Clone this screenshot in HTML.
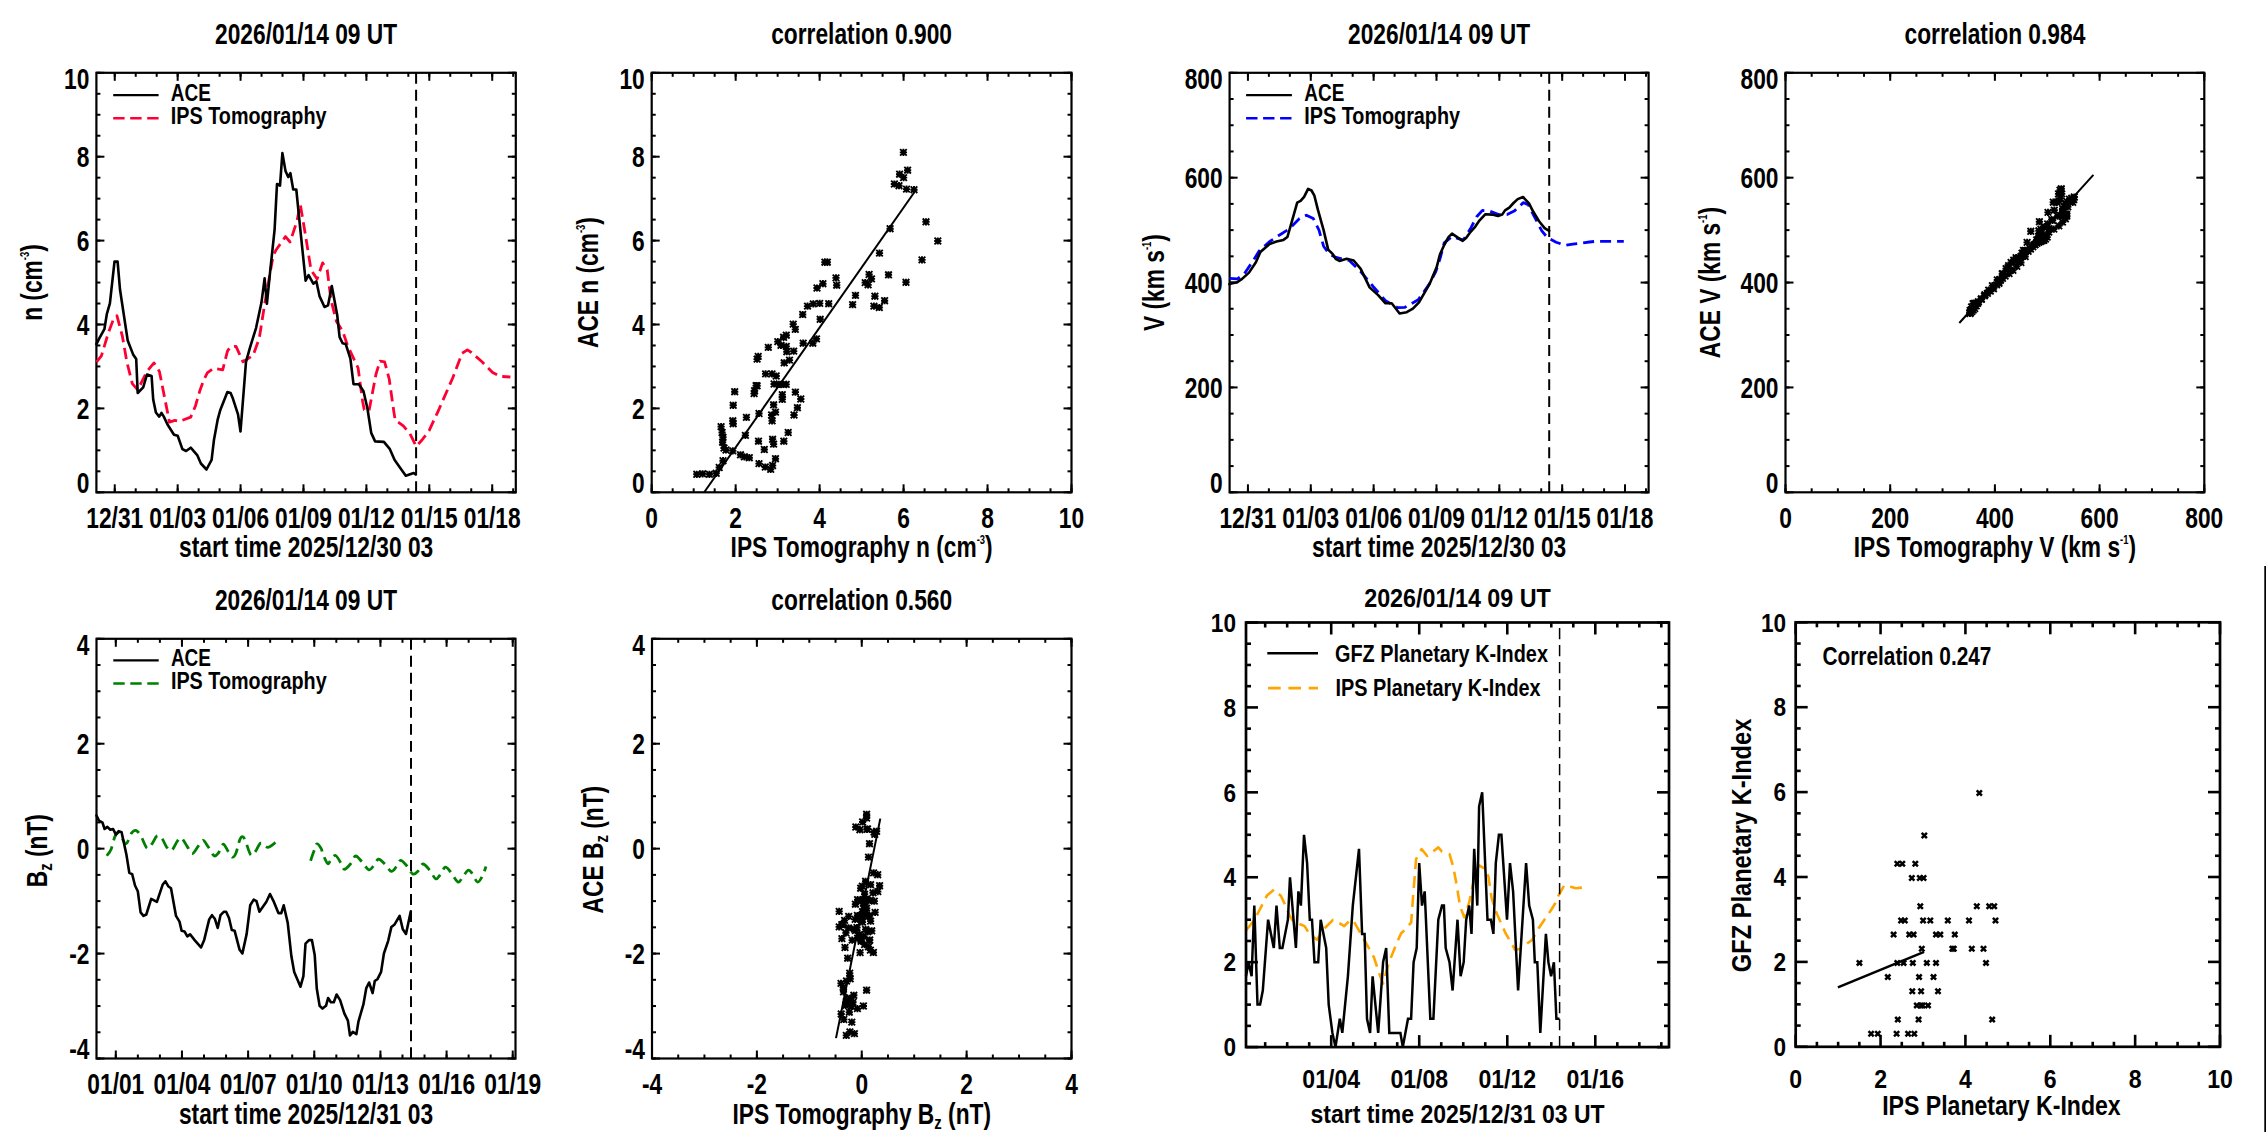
<!DOCTYPE html>
<html><head><meta charset="utf-8"><style>
html,body{margin:0;padding:0;background:#fff;overflow:hidden;}
svg{display:block;}
text{font-family:"Liberation Sans", sans-serif;}
</style></head><body>
<svg width="2266" height="1132" viewBox="0 0 2266 1132">
<defs><path id="ast" d="M-3.3,-3.3L3.3,3.3M-3.3,3.3L3.3,-3.3M-3.6,0L3.6,0M0,-3.6L0,3.6" stroke="#000" stroke-width="1.9" fill="none"/><path id="xm" d="M-2.6,-2.6L2.6,2.6M-2.6,2.6L2.6,-2.6" stroke="#000" stroke-width="2.5" fill="none"/></defs>
<rect width="2266" height="1132" fill="#fff"/>
<rect x="96.40" y="72.80" width="419.40" height="419.50" fill="none" stroke="#000" stroke-width="2.2"/>
<line x1="114.75" y1="492.30" x2="114.75" y2="484.30" stroke="#000" stroke-width="2.0" />
<line x1="114.75" y1="72.80" x2="114.75" y2="80.80" stroke="#000" stroke-width="2.0" />
<line x1="177.66" y1="492.30" x2="177.66" y2="484.30" stroke="#000" stroke-width="2.0" />
<line x1="177.66" y1="72.80" x2="177.66" y2="80.80" stroke="#000" stroke-width="2.0" />
<line x1="240.57" y1="492.30" x2="240.57" y2="484.30" stroke="#000" stroke-width="2.0" />
<line x1="240.57" y1="72.80" x2="240.57" y2="80.80" stroke="#000" stroke-width="2.0" />
<line x1="303.48" y1="492.30" x2="303.48" y2="484.30" stroke="#000" stroke-width="2.0" />
<line x1="303.48" y1="72.80" x2="303.48" y2="80.80" stroke="#000" stroke-width="2.0" />
<line x1="366.39" y1="492.30" x2="366.39" y2="484.30" stroke="#000" stroke-width="2.0" />
<line x1="366.39" y1="72.80" x2="366.39" y2="80.80" stroke="#000" stroke-width="2.0" />
<line x1="429.30" y1="492.30" x2="429.30" y2="484.30" stroke="#000" stroke-width="2.0" />
<line x1="429.30" y1="72.80" x2="429.30" y2="80.80" stroke="#000" stroke-width="2.0" />
<line x1="492.21" y1="492.30" x2="492.21" y2="484.30" stroke="#000" stroke-width="2.0" />
<line x1="492.21" y1="72.80" x2="492.21" y2="80.80" stroke="#000" stroke-width="2.0" />
<line x1="114.75" y1="492.30" x2="114.75" y2="488.30" stroke="#000" stroke-width="2.0" />
<line x1="114.75" y1="72.80" x2="114.75" y2="76.80" stroke="#000" stroke-width="2.0" />
<line x1="135.72" y1="492.30" x2="135.72" y2="488.30" stroke="#000" stroke-width="2.0" />
<line x1="135.72" y1="72.80" x2="135.72" y2="76.80" stroke="#000" stroke-width="2.0" />
<line x1="156.69" y1="492.30" x2="156.69" y2="488.30" stroke="#000" stroke-width="2.0" />
<line x1="156.69" y1="72.80" x2="156.69" y2="76.80" stroke="#000" stroke-width="2.0" />
<line x1="177.66" y1="492.30" x2="177.66" y2="488.30" stroke="#000" stroke-width="2.0" />
<line x1="177.66" y1="72.80" x2="177.66" y2="76.80" stroke="#000" stroke-width="2.0" />
<line x1="198.63" y1="492.30" x2="198.63" y2="488.30" stroke="#000" stroke-width="2.0" />
<line x1="198.63" y1="72.80" x2="198.63" y2="76.80" stroke="#000" stroke-width="2.0" />
<line x1="219.60" y1="492.30" x2="219.60" y2="488.30" stroke="#000" stroke-width="2.0" />
<line x1="219.60" y1="72.80" x2="219.60" y2="76.80" stroke="#000" stroke-width="2.0" />
<line x1="240.57" y1="492.30" x2="240.57" y2="488.30" stroke="#000" stroke-width="2.0" />
<line x1="240.57" y1="72.80" x2="240.57" y2="76.80" stroke="#000" stroke-width="2.0" />
<line x1="261.54" y1="492.30" x2="261.54" y2="488.30" stroke="#000" stroke-width="2.0" />
<line x1="261.54" y1="72.80" x2="261.54" y2="76.80" stroke="#000" stroke-width="2.0" />
<line x1="282.51" y1="492.30" x2="282.51" y2="488.30" stroke="#000" stroke-width="2.0" />
<line x1="282.51" y1="72.80" x2="282.51" y2="76.80" stroke="#000" stroke-width="2.0" />
<line x1="303.48" y1="492.30" x2="303.48" y2="488.30" stroke="#000" stroke-width="2.0" />
<line x1="303.48" y1="72.80" x2="303.48" y2="76.80" stroke="#000" stroke-width="2.0" />
<line x1="324.45" y1="492.30" x2="324.45" y2="488.30" stroke="#000" stroke-width="2.0" />
<line x1="324.45" y1="72.80" x2="324.45" y2="76.80" stroke="#000" stroke-width="2.0" />
<line x1="345.42" y1="492.30" x2="345.42" y2="488.30" stroke="#000" stroke-width="2.0" />
<line x1="345.42" y1="72.80" x2="345.42" y2="76.80" stroke="#000" stroke-width="2.0" />
<line x1="366.39" y1="492.30" x2="366.39" y2="488.30" stroke="#000" stroke-width="2.0" />
<line x1="366.39" y1="72.80" x2="366.39" y2="76.80" stroke="#000" stroke-width="2.0" />
<line x1="387.36" y1="492.30" x2="387.36" y2="488.30" stroke="#000" stroke-width="2.0" />
<line x1="387.36" y1="72.80" x2="387.36" y2="76.80" stroke="#000" stroke-width="2.0" />
<line x1="408.33" y1="492.30" x2="408.33" y2="488.30" stroke="#000" stroke-width="2.0" />
<line x1="408.33" y1="72.80" x2="408.33" y2="76.80" stroke="#000" stroke-width="2.0" />
<line x1="429.30" y1="492.30" x2="429.30" y2="488.30" stroke="#000" stroke-width="2.0" />
<line x1="429.30" y1="72.80" x2="429.30" y2="76.80" stroke="#000" stroke-width="2.0" />
<line x1="450.27" y1="492.30" x2="450.27" y2="488.30" stroke="#000" stroke-width="2.0" />
<line x1="450.27" y1="72.80" x2="450.27" y2="76.80" stroke="#000" stroke-width="2.0" />
<line x1="471.24" y1="492.30" x2="471.24" y2="488.30" stroke="#000" stroke-width="2.0" />
<line x1="471.24" y1="72.80" x2="471.24" y2="76.80" stroke="#000" stroke-width="2.0" />
<line x1="492.21" y1="492.30" x2="492.21" y2="488.30" stroke="#000" stroke-width="2.0" />
<line x1="492.21" y1="72.80" x2="492.21" y2="76.80" stroke="#000" stroke-width="2.0" />
<line x1="513.18" y1="492.30" x2="513.18" y2="488.30" stroke="#000" stroke-width="2.0" />
<line x1="513.18" y1="72.80" x2="513.18" y2="76.80" stroke="#000" stroke-width="2.0" />
<line x1="96.40" y1="492.30" x2="104.40" y2="492.30" stroke="#000" stroke-width="2.0" />
<line x1="515.80" y1="492.30" x2="507.80" y2="492.30" stroke="#000" stroke-width="2.0" />
<line x1="96.40" y1="408.40" x2="104.40" y2="408.40" stroke="#000" stroke-width="2.0" />
<line x1="515.80" y1="408.40" x2="507.80" y2="408.40" stroke="#000" stroke-width="2.0" />
<line x1="96.40" y1="324.50" x2="104.40" y2="324.50" stroke="#000" stroke-width="2.0" />
<line x1="515.80" y1="324.50" x2="507.80" y2="324.50" stroke="#000" stroke-width="2.0" />
<line x1="96.40" y1="240.60" x2="104.40" y2="240.60" stroke="#000" stroke-width="2.0" />
<line x1="515.80" y1="240.60" x2="507.80" y2="240.60" stroke="#000" stroke-width="2.0" />
<line x1="96.40" y1="156.70" x2="104.40" y2="156.70" stroke="#000" stroke-width="2.0" />
<line x1="515.80" y1="156.70" x2="507.80" y2="156.70" stroke="#000" stroke-width="2.0" />
<line x1="96.40" y1="72.80" x2="104.40" y2="72.80" stroke="#000" stroke-width="2.0" />
<line x1="515.80" y1="72.80" x2="507.80" y2="72.80" stroke="#000" stroke-width="2.0" />
<line x1="96.40" y1="492.30" x2="100.40" y2="492.30" stroke="#000" stroke-width="2.0" />
<line x1="515.80" y1="492.30" x2="511.80" y2="492.30" stroke="#000" stroke-width="2.0" />
<line x1="96.40" y1="471.32" x2="100.40" y2="471.32" stroke="#000" stroke-width="2.0" />
<line x1="515.80" y1="471.32" x2="511.80" y2="471.32" stroke="#000" stroke-width="2.0" />
<line x1="96.40" y1="450.35" x2="100.40" y2="450.35" stroke="#000" stroke-width="2.0" />
<line x1="515.80" y1="450.35" x2="511.80" y2="450.35" stroke="#000" stroke-width="2.0" />
<line x1="96.40" y1="429.38" x2="100.40" y2="429.38" stroke="#000" stroke-width="2.0" />
<line x1="515.80" y1="429.38" x2="511.80" y2="429.38" stroke="#000" stroke-width="2.0" />
<line x1="96.40" y1="408.40" x2="100.40" y2="408.40" stroke="#000" stroke-width="2.0" />
<line x1="515.80" y1="408.40" x2="511.80" y2="408.40" stroke="#000" stroke-width="2.0" />
<line x1="96.40" y1="387.43" x2="100.40" y2="387.43" stroke="#000" stroke-width="2.0" />
<line x1="515.80" y1="387.43" x2="511.80" y2="387.43" stroke="#000" stroke-width="2.0" />
<line x1="96.40" y1="366.45" x2="100.40" y2="366.45" stroke="#000" stroke-width="2.0" />
<line x1="515.80" y1="366.45" x2="511.80" y2="366.45" stroke="#000" stroke-width="2.0" />
<line x1="96.40" y1="345.48" x2="100.40" y2="345.48" stroke="#000" stroke-width="2.0" />
<line x1="515.80" y1="345.48" x2="511.80" y2="345.48" stroke="#000" stroke-width="2.0" />
<line x1="96.40" y1="324.50" x2="100.40" y2="324.50" stroke="#000" stroke-width="2.0" />
<line x1="515.80" y1="324.50" x2="511.80" y2="324.50" stroke="#000" stroke-width="2.0" />
<line x1="96.40" y1="303.52" x2="100.40" y2="303.52" stroke="#000" stroke-width="2.0" />
<line x1="515.80" y1="303.52" x2="511.80" y2="303.52" stroke="#000" stroke-width="2.0" />
<line x1="96.40" y1="282.55" x2="100.40" y2="282.55" stroke="#000" stroke-width="2.0" />
<line x1="515.80" y1="282.55" x2="511.80" y2="282.55" stroke="#000" stroke-width="2.0" />
<line x1="96.40" y1="261.58" x2="100.40" y2="261.58" stroke="#000" stroke-width="2.0" />
<line x1="515.80" y1="261.58" x2="511.80" y2="261.58" stroke="#000" stroke-width="2.0" />
<line x1="96.40" y1="240.60" x2="100.40" y2="240.60" stroke="#000" stroke-width="2.0" />
<line x1="515.80" y1="240.60" x2="511.80" y2="240.60" stroke="#000" stroke-width="2.0" />
<line x1="96.40" y1="219.62" x2="100.40" y2="219.62" stroke="#000" stroke-width="2.0" />
<line x1="515.80" y1="219.62" x2="511.80" y2="219.62" stroke="#000" stroke-width="2.0" />
<line x1="96.40" y1="198.65" x2="100.40" y2="198.65" stroke="#000" stroke-width="2.0" />
<line x1="515.80" y1="198.65" x2="511.80" y2="198.65" stroke="#000" stroke-width="2.0" />
<line x1="96.40" y1="177.68" x2="100.40" y2="177.68" stroke="#000" stroke-width="2.0" />
<line x1="515.80" y1="177.68" x2="511.80" y2="177.68" stroke="#000" stroke-width="2.0" />
<line x1="96.40" y1="156.70" x2="100.40" y2="156.70" stroke="#000" stroke-width="2.0" />
<line x1="515.80" y1="156.70" x2="511.80" y2="156.70" stroke="#000" stroke-width="2.0" />
<line x1="96.40" y1="135.73" x2="100.40" y2="135.73" stroke="#000" stroke-width="2.0" />
<line x1="515.80" y1="135.73" x2="511.80" y2="135.73" stroke="#000" stroke-width="2.0" />
<line x1="96.40" y1="114.75" x2="100.40" y2="114.75" stroke="#000" stroke-width="2.0" />
<line x1="515.80" y1="114.75" x2="511.80" y2="114.75" stroke="#000" stroke-width="2.0" />
<line x1="96.40" y1="93.78" x2="100.40" y2="93.78" stroke="#000" stroke-width="2.0" />
<line x1="515.80" y1="93.78" x2="511.80" y2="93.78" stroke="#000" stroke-width="2.0" />
<line x1="96.40" y1="72.80" x2="100.40" y2="72.80" stroke="#000" stroke-width="2.0" />
<line x1="515.80" y1="72.80" x2="511.80" y2="72.80" stroke="#000" stroke-width="2.0" />
<text transform="translate(114.75,528.00) scale(0.785,1)" text-anchor="middle" font-size="29" font-weight="bold" fill="#000">12/31</text>
<text transform="translate(177.66,528.00) scale(0.785,1)" text-anchor="middle" font-size="29" font-weight="bold" fill="#000">01/03</text>
<text transform="translate(240.57,528.00) scale(0.785,1)" text-anchor="middle" font-size="29" font-weight="bold" fill="#000">01/06</text>
<text transform="translate(303.48,528.00) scale(0.785,1)" text-anchor="middle" font-size="29" font-weight="bold" fill="#000">01/09</text>
<text transform="translate(366.39,528.00) scale(0.785,1)" text-anchor="middle" font-size="29" font-weight="bold" fill="#000">01/12</text>
<text transform="translate(429.30,528.00) scale(0.785,1)" text-anchor="middle" font-size="29" font-weight="bold" fill="#000">01/15</text>
<text transform="translate(492.21,528.00) scale(0.785,1)" text-anchor="middle" font-size="29" font-weight="bold" fill="#000">01/18</text>
<text transform="translate(89.40,492.60) scale(0.785,1)" text-anchor="end" font-size="29" font-weight="bold" fill="#000">0</text>
<text transform="translate(89.40,418.50) scale(0.785,1)" text-anchor="end" font-size="29" font-weight="bold" fill="#000">2</text>
<text transform="translate(89.40,334.60) scale(0.785,1)" text-anchor="end" font-size="29" font-weight="bold" fill="#000">4</text>
<text transform="translate(89.40,250.70) scale(0.785,1)" text-anchor="end" font-size="29" font-weight="bold" fill="#000">6</text>
<text transform="translate(89.40,166.80) scale(0.785,1)" text-anchor="end" font-size="29" font-weight="bold" fill="#000">8</text>
<text transform="translate(89.40,89.10) scale(0.785,1)" text-anchor="end" font-size="29" font-weight="bold" fill="#000">10</text>
<text transform="translate(306.10,44.40) scale(0.785,1)" text-anchor="middle" font-size="29" font-weight="bold" fill="#000">2026/01/14 09 UT</text>
<text transform="translate(306.10,557.30) scale(0.785,1)" text-anchor="middle" font-size="29" font-weight="bold" fill="#000">start time 2025/12/30 03</text>
<polyline points="96.4,362.1 101.4,355.9 108.4,332.7 113.0,320.4 116.9,315.7 122.3,335.8 126.9,362.1 132.3,383.7 137.7,389.9 147.0,371.4 154.0,362.9 159.4,371.4 164.8,398.6 168.5,417.1 169.4,422.2 175.0,420.4 179.6,421.3 190.7,417.1 195.4,406.0 200.0,390.2 203.7,380.0 207.3,372.9 213.5,368.3 222.7,369.8 227.4,351.3 230.5,346.6 236.0,346.4 243.0,361.8 253.0,355.6 259.2,338.6 264.6,304.6 273.1,255.9 276.2,249.7 285.5,236.6 290.1,242.0 297.0,220.9 300.3,204.5 305.6,235.8 311.0,269.8 317.1,279.1 322.6,262.9 327.2,269.8 331.0,300.0 336.5,321.6 342.6,330.9 347.3,344.8 358.1,368.0 362.7,402.0 364.3,409.7 368.9,411.3 376.0,374.2 380.0,361.1 384.6,361.8 389.2,379.0 393.9,412.1 395.2,420.1 403.3,425.8 410.0,433.9 416.2,446.3 422.0,440.0 429.1,430.6 438.3,410.8 452.8,377.7 462.1,353.2 467.4,349.9 471.4,352.5 482.0,361.8 492.6,372.4 500.5,376.4 510.4,377.0" fill="none" stroke="#FF0033" stroke-width="2.8" stroke-linejoin="round" stroke-linecap="butt" stroke-dasharray="11.3 5.6"/>
<polyline points="96.4,344.2 99.4,338.2 104.4,329.2 106.8,314.2 109.9,303.4 114.5,261.6 117.6,261.6 120.0,289.5 127.7,340.5 133.1,354.4 136.2,359.0 137.7,393.0 143.2,387.4 147.0,374.5 151.6,376.0 153.2,399.5 155.9,412.5 159.2,416.6 161.5,412.9 163.8,416.6 167.5,424.5 174.0,434.7 177.7,435.7 182.4,449.1 186.1,451.0 190.7,447.7 197.2,455.1 200.9,463.5 206.5,469.5 211.6,459.8 213.9,440.3 217.6,419.9 220.4,409.7 227.4,392.1 230.6,393.0 232.9,398.6 238.0,414.3 240.5,431.5 246.0,361.8 249.9,347.9 256.1,327.8 261.5,302.3 264.6,278.3 266.9,303.8 270.0,272.9 274.6,229.6 277.0,184.0 280.0,185.6 282.4,153.1 285.5,170.9 288.2,177.1 290.4,173.2 293.2,189.5 296.3,189.5 299.4,220.4 305.6,280.6 308.6,275.2 313.3,283.7 316.4,281.4 319.5,296.1 324.5,307.0 328.0,305.4 331.8,286.1 337.2,315.0 339.6,337.1 342.6,343.3 345.7,344.0 350.4,358.7 353.5,384.2 358.9,384.2 363.5,391.2 367.4,408.2 371.2,432.9 375.1,441.4 383.9,441.9 389.9,449.2 394.5,459.8 399.2,466.4 405.8,475.7 413.7,473.0 415.7,474.4" fill="none" stroke="#000" stroke-width="2.6" stroke-linejoin="round" stroke-linecap="round"/>
<line x1="416.10" y1="72.80" x2="416.10" y2="492.30" stroke="#000" stroke-width="2.0" stroke-dasharray="10.9 6.12"/>
<line x1="113.20" y1="95.10" x2="158.60" y2="95.10" stroke="#000" stroke-width="2.2" />
<line x1="113.20" y1="118.30" x2="158.80" y2="118.30" stroke="#FF0033" stroke-width="2.6" stroke-dasharray="11.4 5.6"/>
<text transform="translate(170.80,100.50) scale(0.8,1)" text-anchor="start" font-size="23.7" font-weight="bold" fill="#000">ACE</text>
<text transform="translate(170.80,123.60) scale(0.835,1)" text-anchor="start" font-size="23.7" font-weight="bold" fill="#000">IPS Tomography</text>
<text transform="translate(42.20,282.55) rotate(-90) scale(0.785,1)" text-anchor="middle" font-size="29" font-weight="bold" fill="#000">n (cm<tspan font-size="12" dy="-13">-3</tspan><tspan dy="13">)</tspan></text>
<rect x="651.70" y="72.80" width="419.80" height="419.50" fill="none" stroke="#000" stroke-width="2.2"/>
<line x1="651.70" y1="492.30" x2="651.70" y2="484.30" stroke="#000" stroke-width="2.0" />
<line x1="651.70" y1="72.80" x2="651.70" y2="80.80" stroke="#000" stroke-width="2.0" />
<line x1="735.66" y1="492.30" x2="735.66" y2="484.30" stroke="#000" stroke-width="2.0" />
<line x1="735.66" y1="72.80" x2="735.66" y2="80.80" stroke="#000" stroke-width="2.0" />
<line x1="819.62" y1="492.30" x2="819.62" y2="484.30" stroke="#000" stroke-width="2.0" />
<line x1="819.62" y1="72.80" x2="819.62" y2="80.80" stroke="#000" stroke-width="2.0" />
<line x1="903.58" y1="492.30" x2="903.58" y2="484.30" stroke="#000" stroke-width="2.0" />
<line x1="903.58" y1="72.80" x2="903.58" y2="80.80" stroke="#000" stroke-width="2.0" />
<line x1="987.54" y1="492.30" x2="987.54" y2="484.30" stroke="#000" stroke-width="2.0" />
<line x1="987.54" y1="72.80" x2="987.54" y2="80.80" stroke="#000" stroke-width="2.0" />
<line x1="1071.50" y1="492.30" x2="1071.50" y2="484.30" stroke="#000" stroke-width="2.0" />
<line x1="1071.50" y1="72.80" x2="1071.50" y2="80.80" stroke="#000" stroke-width="2.0" />
<line x1="651.70" y1="492.30" x2="651.70" y2="488.30" stroke="#000" stroke-width="2.0" />
<line x1="651.70" y1="72.80" x2="651.70" y2="76.80" stroke="#000" stroke-width="2.0" />
<line x1="672.69" y1="492.30" x2="672.69" y2="488.30" stroke="#000" stroke-width="2.0" />
<line x1="672.69" y1="72.80" x2="672.69" y2="76.80" stroke="#000" stroke-width="2.0" />
<line x1="693.68" y1="492.30" x2="693.68" y2="488.30" stroke="#000" stroke-width="2.0" />
<line x1="693.68" y1="72.80" x2="693.68" y2="76.80" stroke="#000" stroke-width="2.0" />
<line x1="714.67" y1="492.30" x2="714.67" y2="488.30" stroke="#000" stroke-width="2.0" />
<line x1="714.67" y1="72.80" x2="714.67" y2="76.80" stroke="#000" stroke-width="2.0" />
<line x1="735.66" y1="492.30" x2="735.66" y2="488.30" stroke="#000" stroke-width="2.0" />
<line x1="735.66" y1="72.80" x2="735.66" y2="76.80" stroke="#000" stroke-width="2.0" />
<line x1="756.65" y1="492.30" x2="756.65" y2="488.30" stroke="#000" stroke-width="2.0" />
<line x1="756.65" y1="72.80" x2="756.65" y2="76.80" stroke="#000" stroke-width="2.0" />
<line x1="777.64" y1="492.30" x2="777.64" y2="488.30" stroke="#000" stroke-width="2.0" />
<line x1="777.64" y1="72.80" x2="777.64" y2="76.80" stroke="#000" stroke-width="2.0" />
<line x1="798.63" y1="492.30" x2="798.63" y2="488.30" stroke="#000" stroke-width="2.0" />
<line x1="798.63" y1="72.80" x2="798.63" y2="76.80" stroke="#000" stroke-width="2.0" />
<line x1="819.62" y1="492.30" x2="819.62" y2="488.30" stroke="#000" stroke-width="2.0" />
<line x1="819.62" y1="72.80" x2="819.62" y2="76.80" stroke="#000" stroke-width="2.0" />
<line x1="840.61" y1="492.30" x2="840.61" y2="488.30" stroke="#000" stroke-width="2.0" />
<line x1="840.61" y1="72.80" x2="840.61" y2="76.80" stroke="#000" stroke-width="2.0" />
<line x1="861.60" y1="492.30" x2="861.60" y2="488.30" stroke="#000" stroke-width="2.0" />
<line x1="861.60" y1="72.80" x2="861.60" y2="76.80" stroke="#000" stroke-width="2.0" />
<line x1="882.59" y1="492.30" x2="882.59" y2="488.30" stroke="#000" stroke-width="2.0" />
<line x1="882.59" y1="72.80" x2="882.59" y2="76.80" stroke="#000" stroke-width="2.0" />
<line x1="903.58" y1="492.30" x2="903.58" y2="488.30" stroke="#000" stroke-width="2.0" />
<line x1="903.58" y1="72.80" x2="903.58" y2="76.80" stroke="#000" stroke-width="2.0" />
<line x1="924.57" y1="492.30" x2="924.57" y2="488.30" stroke="#000" stroke-width="2.0" />
<line x1="924.57" y1="72.80" x2="924.57" y2="76.80" stroke="#000" stroke-width="2.0" />
<line x1="945.56" y1="492.30" x2="945.56" y2="488.30" stroke="#000" stroke-width="2.0" />
<line x1="945.56" y1="72.80" x2="945.56" y2="76.80" stroke="#000" stroke-width="2.0" />
<line x1="966.55" y1="492.30" x2="966.55" y2="488.30" stroke="#000" stroke-width="2.0" />
<line x1="966.55" y1="72.80" x2="966.55" y2="76.80" stroke="#000" stroke-width="2.0" />
<line x1="987.54" y1="492.30" x2="987.54" y2="488.30" stroke="#000" stroke-width="2.0" />
<line x1="987.54" y1="72.80" x2="987.54" y2="76.80" stroke="#000" stroke-width="2.0" />
<line x1="1008.53" y1="492.30" x2="1008.53" y2="488.30" stroke="#000" stroke-width="2.0" />
<line x1="1008.53" y1="72.80" x2="1008.53" y2="76.80" stroke="#000" stroke-width="2.0" />
<line x1="1029.52" y1="492.30" x2="1029.52" y2="488.30" stroke="#000" stroke-width="2.0" />
<line x1="1029.52" y1="72.80" x2="1029.52" y2="76.80" stroke="#000" stroke-width="2.0" />
<line x1="1050.51" y1="492.30" x2="1050.51" y2="488.30" stroke="#000" stroke-width="2.0" />
<line x1="1050.51" y1="72.80" x2="1050.51" y2="76.80" stroke="#000" stroke-width="2.0" />
<line x1="1071.50" y1="492.30" x2="1071.50" y2="488.30" stroke="#000" stroke-width="2.0" />
<line x1="1071.50" y1="72.80" x2="1071.50" y2="76.80" stroke="#000" stroke-width="2.0" />
<line x1="651.70" y1="492.30" x2="659.70" y2="492.30" stroke="#000" stroke-width="2.0" />
<line x1="1071.50" y1="492.30" x2="1063.50" y2="492.30" stroke="#000" stroke-width="2.0" />
<line x1="651.70" y1="408.40" x2="659.70" y2="408.40" stroke="#000" stroke-width="2.0" />
<line x1="1071.50" y1="408.40" x2="1063.50" y2="408.40" stroke="#000" stroke-width="2.0" />
<line x1="651.70" y1="324.50" x2="659.70" y2="324.50" stroke="#000" stroke-width="2.0" />
<line x1="1071.50" y1="324.50" x2="1063.50" y2="324.50" stroke="#000" stroke-width="2.0" />
<line x1="651.70" y1="240.60" x2="659.70" y2="240.60" stroke="#000" stroke-width="2.0" />
<line x1="1071.50" y1="240.60" x2="1063.50" y2="240.60" stroke="#000" stroke-width="2.0" />
<line x1="651.70" y1="156.70" x2="659.70" y2="156.70" stroke="#000" stroke-width="2.0" />
<line x1="1071.50" y1="156.70" x2="1063.50" y2="156.70" stroke="#000" stroke-width="2.0" />
<line x1="651.70" y1="72.80" x2="659.70" y2="72.80" stroke="#000" stroke-width="2.0" />
<line x1="1071.50" y1="72.80" x2="1063.50" y2="72.80" stroke="#000" stroke-width="2.0" />
<line x1="651.70" y1="492.30" x2="655.70" y2="492.30" stroke="#000" stroke-width="2.0" />
<line x1="1071.50" y1="492.30" x2="1067.50" y2="492.30" stroke="#000" stroke-width="2.0" />
<line x1="651.70" y1="471.32" x2="655.70" y2="471.32" stroke="#000" stroke-width="2.0" />
<line x1="1071.50" y1="471.32" x2="1067.50" y2="471.32" stroke="#000" stroke-width="2.0" />
<line x1="651.70" y1="450.35" x2="655.70" y2="450.35" stroke="#000" stroke-width="2.0" />
<line x1="1071.50" y1="450.35" x2="1067.50" y2="450.35" stroke="#000" stroke-width="2.0" />
<line x1="651.70" y1="429.38" x2="655.70" y2="429.38" stroke="#000" stroke-width="2.0" />
<line x1="1071.50" y1="429.38" x2="1067.50" y2="429.38" stroke="#000" stroke-width="2.0" />
<line x1="651.70" y1="408.40" x2="655.70" y2="408.40" stroke="#000" stroke-width="2.0" />
<line x1="1071.50" y1="408.40" x2="1067.50" y2="408.40" stroke="#000" stroke-width="2.0" />
<line x1="651.70" y1="387.43" x2="655.70" y2="387.43" stroke="#000" stroke-width="2.0" />
<line x1="1071.50" y1="387.43" x2="1067.50" y2="387.43" stroke="#000" stroke-width="2.0" />
<line x1="651.70" y1="366.45" x2="655.70" y2="366.45" stroke="#000" stroke-width="2.0" />
<line x1="1071.50" y1="366.45" x2="1067.50" y2="366.45" stroke="#000" stroke-width="2.0" />
<line x1="651.70" y1="345.48" x2="655.70" y2="345.48" stroke="#000" stroke-width="2.0" />
<line x1="1071.50" y1="345.48" x2="1067.50" y2="345.48" stroke="#000" stroke-width="2.0" />
<line x1="651.70" y1="324.50" x2="655.70" y2="324.50" stroke="#000" stroke-width="2.0" />
<line x1="1071.50" y1="324.50" x2="1067.50" y2="324.50" stroke="#000" stroke-width="2.0" />
<line x1="651.70" y1="303.52" x2="655.70" y2="303.52" stroke="#000" stroke-width="2.0" />
<line x1="1071.50" y1="303.52" x2="1067.50" y2="303.52" stroke="#000" stroke-width="2.0" />
<line x1="651.70" y1="282.55" x2="655.70" y2="282.55" stroke="#000" stroke-width="2.0" />
<line x1="1071.50" y1="282.55" x2="1067.50" y2="282.55" stroke="#000" stroke-width="2.0" />
<line x1="651.70" y1="261.58" x2="655.70" y2="261.58" stroke="#000" stroke-width="2.0" />
<line x1="1071.50" y1="261.58" x2="1067.50" y2="261.58" stroke="#000" stroke-width="2.0" />
<line x1="651.70" y1="240.60" x2="655.70" y2="240.60" stroke="#000" stroke-width="2.0" />
<line x1="1071.50" y1="240.60" x2="1067.50" y2="240.60" stroke="#000" stroke-width="2.0" />
<line x1="651.70" y1="219.62" x2="655.70" y2="219.62" stroke="#000" stroke-width="2.0" />
<line x1="1071.50" y1="219.62" x2="1067.50" y2="219.62" stroke="#000" stroke-width="2.0" />
<line x1="651.70" y1="198.65" x2="655.70" y2="198.65" stroke="#000" stroke-width="2.0" />
<line x1="1071.50" y1="198.65" x2="1067.50" y2="198.65" stroke="#000" stroke-width="2.0" />
<line x1="651.70" y1="177.68" x2="655.70" y2="177.68" stroke="#000" stroke-width="2.0" />
<line x1="1071.50" y1="177.68" x2="1067.50" y2="177.68" stroke="#000" stroke-width="2.0" />
<line x1="651.70" y1="156.70" x2="655.70" y2="156.70" stroke="#000" stroke-width="2.0" />
<line x1="1071.50" y1="156.70" x2="1067.50" y2="156.70" stroke="#000" stroke-width="2.0" />
<line x1="651.70" y1="135.73" x2="655.70" y2="135.73" stroke="#000" stroke-width="2.0" />
<line x1="1071.50" y1="135.73" x2="1067.50" y2="135.73" stroke="#000" stroke-width="2.0" />
<line x1="651.70" y1="114.75" x2="655.70" y2="114.75" stroke="#000" stroke-width="2.0" />
<line x1="1071.50" y1="114.75" x2="1067.50" y2="114.75" stroke="#000" stroke-width="2.0" />
<line x1="651.70" y1="93.78" x2="655.70" y2="93.78" stroke="#000" stroke-width="2.0" />
<line x1="1071.50" y1="93.78" x2="1067.50" y2="93.78" stroke="#000" stroke-width="2.0" />
<line x1="651.70" y1="72.80" x2="655.70" y2="72.80" stroke="#000" stroke-width="2.0" />
<line x1="1071.50" y1="72.80" x2="1067.50" y2="72.80" stroke="#000" stroke-width="2.0" />
<text transform="translate(651.70,528.00) scale(0.785,1)" text-anchor="middle" font-size="29" font-weight="bold" fill="#000">0</text>
<text transform="translate(735.66,528.00) scale(0.785,1)" text-anchor="middle" font-size="29" font-weight="bold" fill="#000">2</text>
<text transform="translate(819.62,528.00) scale(0.785,1)" text-anchor="middle" font-size="29" font-weight="bold" fill="#000">4</text>
<text transform="translate(903.58,528.00) scale(0.785,1)" text-anchor="middle" font-size="29" font-weight="bold" fill="#000">6</text>
<text transform="translate(987.54,528.00) scale(0.785,1)" text-anchor="middle" font-size="29" font-weight="bold" fill="#000">8</text>
<text transform="translate(1071.50,528.00) scale(0.785,1)" text-anchor="middle" font-size="29" font-weight="bold" fill="#000">10</text>
<text transform="translate(644.70,492.60) scale(0.785,1)" text-anchor="end" font-size="29" font-weight="bold" fill="#000">0</text>
<text transform="translate(644.70,418.50) scale(0.785,1)" text-anchor="end" font-size="29" font-weight="bold" fill="#000">2</text>
<text transform="translate(644.70,334.60) scale(0.785,1)" text-anchor="end" font-size="29" font-weight="bold" fill="#000">4</text>
<text transform="translate(644.70,250.70) scale(0.785,1)" text-anchor="end" font-size="29" font-weight="bold" fill="#000">6</text>
<text transform="translate(644.70,166.80) scale(0.785,1)" text-anchor="end" font-size="29" font-weight="bold" fill="#000">8</text>
<text transform="translate(644.70,89.10) scale(0.785,1)" text-anchor="end" font-size="29" font-weight="bold" fill="#000">10</text>
<use href="#ast" x="937.8" y="241.0"/>
<use href="#ast" x="879.5" y="253.1"/>
<use href="#ast" x="922.0" y="259.9"/>
<use href="#ast" x="824.9" y="262.2"/>
<use href="#ast" x="827.3" y="262.2"/>
<use href="#ast" x="869.1" y="274.5"/>
<use href="#ast" x="888.5" y="274.8"/>
<use href="#ast" x="871.5" y="278.9"/>
<use href="#ast" x="836.0" y="277.9"/>
<use href="#ast" x="906.0" y="282.3"/>
<use href="#ast" x="865.2" y="282.6"/>
<use href="#ast" x="868.1" y="284.9"/>
<use href="#ast" x="836.7" y="285.2"/>
<use href="#ast" x="822.9" y="283.7"/>
<use href="#ast" x="855.5" y="295.4"/>
<use href="#ast" x="874.9" y="296.2"/>
<use href="#ast" x="884.6" y="300.7"/>
<use href="#ast" x="852.6" y="304.6"/>
<use href="#ast" x="873.9" y="306.1"/>
<use href="#ast" x="879.3" y="307.5"/>
<use href="#ast" x="828.7" y="303.7"/>
<use href="#ast" x="903.4" y="152.4"/>
<use href="#ast" x="907.6" y="170.2"/>
<use href="#ast" x="899.6" y="174.2"/>
<use href="#ast" x="903.6" y="177.6"/>
<use href="#ast" x="894.4" y="184.0"/>
<use href="#ast" x="899.0" y="185.7"/>
<use href="#ast" x="906.5" y="189.1"/>
<use href="#ast" x="914.0" y="189.7"/>
<use href="#ast" x="926.0" y="221.8"/>
<use href="#ast" x="890.1" y="228.7"/>
<use href="#ast" x="817.0" y="288.0"/>
<use href="#ast" x="819.7" y="303.4"/>
<use href="#ast" x="813.3" y="303.9"/>
<use href="#ast" x="807.5" y="306.1"/>
<use href="#ast" x="802.7" y="314.5"/>
<use href="#ast" x="820.2" y="319.3"/>
<use href="#ast" x="793.2" y="324.1"/>
<use href="#ast" x="795.3" y="329.4"/>
<use href="#ast" x="786.3" y="335.2"/>
<use href="#ast" x="783.6" y="337.3"/>
<use href="#ast" x="777.8" y="341.6"/>
<use href="#ast" x="781.0" y="345.3"/>
<use href="#ast" x="786.3" y="346.4"/>
<use href="#ast" x="786.8" y="351.7"/>
<use href="#ast" x="793.7" y="351.1"/>
<use href="#ast" x="803.2" y="343.2"/>
<use href="#ast" x="816.5" y="338.9"/>
<use href="#ast" x="812.8" y="343.2"/>
<use href="#ast" x="768.3" y="347.4"/>
<use href="#ast" x="758.2" y="356.4"/>
<use href="#ast" x="757.1" y="359.1"/>
<use href="#ast" x="789.5" y="360.1"/>
<use href="#ast" x="784.2" y="362.8"/>
<use href="#ast" x="765.6" y="373.9"/>
<use href="#ast" x="772.0" y="373.9"/>
<use href="#ast" x="776.2" y="376.0"/>
<use href="#ast" x="756.1" y="385.6"/>
<use href="#ast" x="774.1" y="384.0"/>
<use href="#ast" x="783.6" y="384.5"/>
<use href="#ast" x="734.7" y="391.7"/>
<use href="#ast" x="757.1" y="385.8"/>
<use href="#ast" x="754.6" y="390.7"/>
<use href="#ast" x="754.1" y="393.6"/>
<use href="#ast" x="779.0" y="384.4"/>
<use href="#ast" x="786.2" y="384.4"/>
<use href="#ast" x="795.4" y="392.1"/>
<use href="#ast" x="800.8" y="399.0"/>
<use href="#ast" x="782.3" y="394.6"/>
<use href="#ast" x="782.3" y="399.4"/>
<use href="#ast" x="773.6" y="404.8"/>
<use href="#ast" x="775.5" y="412.1"/>
<use href="#ast" x="771.6" y="415.0"/>
<use href="#ast" x="772.1" y="420.8"/>
<use href="#ast" x="797.4" y="407.7"/>
<use href="#ast" x="794.0" y="415.0"/>
<use href="#ast" x="733.2" y="405.3"/>
<use href="#ast" x="746.4" y="417.4"/>
<use href="#ast" x="759.0" y="413.5"/>
<use href="#ast" x="732.8" y="420.8"/>
<use href="#ast" x="733.2" y="423.7"/>
<use href="#ast" x="721.1" y="426.6"/>
<use href="#ast" x="722.1" y="432.5"/>
<use href="#ast" x="723.0" y="437.3"/>
<use href="#ast" x="722.6" y="442.2"/>
<use href="#ast" x="724.0" y="448.0"/>
<use href="#ast" x="726.0" y="450.0"/>
<use href="#ast" x="745.4" y="435.4"/>
<use href="#ast" x="732.8" y="450.9"/>
<use href="#ast" x="740.5" y="454.8"/>
<use href="#ast" x="749.3" y="457.7"/>
<use href="#ast" x="744.4" y="456.8"/>
<use href="#ast" x="758.5" y="441.2"/>
<use href="#ast" x="764.3" y="449.5"/>
<use href="#ast" x="772.6" y="439.3"/>
<use href="#ast" x="773.6" y="444.1"/>
<use href="#ast" x="783.8" y="441.2"/>
<use href="#ast" x="788.2" y="432.5"/>
<use href="#ast" x="775.5" y="458.7"/>
<use href="#ast" x="772.6" y="465.5"/>
<use href="#ast" x="770.7" y="469.4"/>
<use href="#ast" x="765.3" y="467.0"/>
<use href="#ast" x="759.0" y="463.6"/>
<use href="#ast" x="723.0" y="460.7"/>
<use href="#ast" x="719.2" y="467.5"/>
<use href="#ast" x="716.2" y="473.3"/>
<use href="#ast" x="709.4" y="474.3"/>
<use href="#ast" x="702.6" y="473.8"/>
<use href="#ast" x="696.8" y="474.3"/>
<line x1="704.20" y1="492.30" x2="914.50" y2="192.00" stroke="#000" stroke-width="2.0" />
<text transform="translate(861.60,44.40) scale(0.785,1)" text-anchor="middle" font-size="29" font-weight="bold" fill="#000">correlation 0.900</text>
<text transform="translate(861.60,557.30) scale(0.785,1)" text-anchor="middle" font-size="29" font-weight="bold" fill="#000">IPS Tomography n (cm<tspan font-size="12" dy="-13">-3</tspan><tspan dy="13">)</tspan></text>
<text transform="translate(598.30,282.55) rotate(-90) scale(0.785,1)" text-anchor="middle" font-size="29" font-weight="bold" fill="#000">ACE n (cm<tspan font-size="12" dy="-13">-3</tspan><tspan dy="13">)</tspan></text>
<rect x="1229.60" y="72.80" width="419.00" height="419.50" fill="none" stroke="#000" stroke-width="2.2"/>
<line x1="1247.93" y1="492.30" x2="1247.93" y2="484.30" stroke="#000" stroke-width="2.0" />
<line x1="1247.93" y1="72.80" x2="1247.93" y2="80.80" stroke="#000" stroke-width="2.0" />
<line x1="1310.78" y1="492.30" x2="1310.78" y2="484.30" stroke="#000" stroke-width="2.0" />
<line x1="1310.78" y1="72.80" x2="1310.78" y2="80.80" stroke="#000" stroke-width="2.0" />
<line x1="1373.63" y1="492.30" x2="1373.63" y2="484.30" stroke="#000" stroke-width="2.0" />
<line x1="1373.63" y1="72.80" x2="1373.63" y2="80.80" stroke="#000" stroke-width="2.0" />
<line x1="1436.48" y1="492.30" x2="1436.48" y2="484.30" stroke="#000" stroke-width="2.0" />
<line x1="1436.48" y1="72.80" x2="1436.48" y2="80.80" stroke="#000" stroke-width="2.0" />
<line x1="1499.33" y1="492.30" x2="1499.33" y2="484.30" stroke="#000" stroke-width="2.0" />
<line x1="1499.33" y1="72.80" x2="1499.33" y2="80.80" stroke="#000" stroke-width="2.0" />
<line x1="1562.18" y1="492.30" x2="1562.18" y2="484.30" stroke="#000" stroke-width="2.0" />
<line x1="1562.18" y1="72.80" x2="1562.18" y2="80.80" stroke="#000" stroke-width="2.0" />
<line x1="1625.03" y1="492.30" x2="1625.03" y2="484.30" stroke="#000" stroke-width="2.0" />
<line x1="1625.03" y1="72.80" x2="1625.03" y2="80.80" stroke="#000" stroke-width="2.0" />
<line x1="1247.93" y1="492.30" x2="1247.93" y2="488.30" stroke="#000" stroke-width="2.0" />
<line x1="1247.93" y1="72.80" x2="1247.93" y2="76.80" stroke="#000" stroke-width="2.0" />
<line x1="1268.88" y1="492.30" x2="1268.88" y2="488.30" stroke="#000" stroke-width="2.0" />
<line x1="1268.88" y1="72.80" x2="1268.88" y2="76.80" stroke="#000" stroke-width="2.0" />
<line x1="1289.83" y1="492.30" x2="1289.83" y2="488.30" stroke="#000" stroke-width="2.0" />
<line x1="1289.83" y1="72.80" x2="1289.83" y2="76.80" stroke="#000" stroke-width="2.0" />
<line x1="1310.78" y1="492.30" x2="1310.78" y2="488.30" stroke="#000" stroke-width="2.0" />
<line x1="1310.78" y1="72.80" x2="1310.78" y2="76.80" stroke="#000" stroke-width="2.0" />
<line x1="1331.73" y1="492.30" x2="1331.73" y2="488.30" stroke="#000" stroke-width="2.0" />
<line x1="1331.73" y1="72.80" x2="1331.73" y2="76.80" stroke="#000" stroke-width="2.0" />
<line x1="1352.68" y1="492.30" x2="1352.68" y2="488.30" stroke="#000" stroke-width="2.0" />
<line x1="1352.68" y1="72.80" x2="1352.68" y2="76.80" stroke="#000" stroke-width="2.0" />
<line x1="1373.63" y1="492.30" x2="1373.63" y2="488.30" stroke="#000" stroke-width="2.0" />
<line x1="1373.63" y1="72.80" x2="1373.63" y2="76.80" stroke="#000" stroke-width="2.0" />
<line x1="1394.58" y1="492.30" x2="1394.58" y2="488.30" stroke="#000" stroke-width="2.0" />
<line x1="1394.58" y1="72.80" x2="1394.58" y2="76.80" stroke="#000" stroke-width="2.0" />
<line x1="1415.53" y1="492.30" x2="1415.53" y2="488.30" stroke="#000" stroke-width="2.0" />
<line x1="1415.53" y1="72.80" x2="1415.53" y2="76.80" stroke="#000" stroke-width="2.0" />
<line x1="1436.48" y1="492.30" x2="1436.48" y2="488.30" stroke="#000" stroke-width="2.0" />
<line x1="1436.48" y1="72.80" x2="1436.48" y2="76.80" stroke="#000" stroke-width="2.0" />
<line x1="1457.43" y1="492.30" x2="1457.43" y2="488.30" stroke="#000" stroke-width="2.0" />
<line x1="1457.43" y1="72.80" x2="1457.43" y2="76.80" stroke="#000" stroke-width="2.0" />
<line x1="1478.38" y1="492.30" x2="1478.38" y2="488.30" stroke="#000" stroke-width="2.0" />
<line x1="1478.38" y1="72.80" x2="1478.38" y2="76.80" stroke="#000" stroke-width="2.0" />
<line x1="1499.33" y1="492.30" x2="1499.33" y2="488.30" stroke="#000" stroke-width="2.0" />
<line x1="1499.33" y1="72.80" x2="1499.33" y2="76.80" stroke="#000" stroke-width="2.0" />
<line x1="1520.28" y1="492.30" x2="1520.28" y2="488.30" stroke="#000" stroke-width="2.0" />
<line x1="1520.28" y1="72.80" x2="1520.28" y2="76.80" stroke="#000" stroke-width="2.0" />
<line x1="1541.23" y1="492.30" x2="1541.23" y2="488.30" stroke="#000" stroke-width="2.0" />
<line x1="1541.23" y1="72.80" x2="1541.23" y2="76.80" stroke="#000" stroke-width="2.0" />
<line x1="1562.18" y1="492.30" x2="1562.18" y2="488.30" stroke="#000" stroke-width="2.0" />
<line x1="1562.18" y1="72.80" x2="1562.18" y2="76.80" stroke="#000" stroke-width="2.0" />
<line x1="1583.13" y1="492.30" x2="1583.13" y2="488.30" stroke="#000" stroke-width="2.0" />
<line x1="1583.13" y1="72.80" x2="1583.13" y2="76.80" stroke="#000" stroke-width="2.0" />
<line x1="1604.08" y1="492.30" x2="1604.08" y2="488.30" stroke="#000" stroke-width="2.0" />
<line x1="1604.08" y1="72.80" x2="1604.08" y2="76.80" stroke="#000" stroke-width="2.0" />
<line x1="1625.03" y1="492.30" x2="1625.03" y2="488.30" stroke="#000" stroke-width="2.0" />
<line x1="1625.03" y1="72.80" x2="1625.03" y2="76.80" stroke="#000" stroke-width="2.0" />
<line x1="1645.98" y1="492.30" x2="1645.98" y2="488.30" stroke="#000" stroke-width="2.0" />
<line x1="1645.98" y1="72.80" x2="1645.98" y2="76.80" stroke="#000" stroke-width="2.0" />
<line x1="1229.60" y1="492.30" x2="1237.60" y2="492.30" stroke="#000" stroke-width="2.0" />
<line x1="1648.60" y1="492.30" x2="1640.60" y2="492.30" stroke="#000" stroke-width="2.0" />
<line x1="1229.60" y1="387.43" x2="1237.60" y2="387.43" stroke="#000" stroke-width="2.0" />
<line x1="1648.60" y1="387.43" x2="1640.60" y2="387.43" stroke="#000" stroke-width="2.0" />
<line x1="1229.60" y1="282.55" x2="1237.60" y2="282.55" stroke="#000" stroke-width="2.0" />
<line x1="1648.60" y1="282.55" x2="1640.60" y2="282.55" stroke="#000" stroke-width="2.0" />
<line x1="1229.60" y1="177.68" x2="1237.60" y2="177.68" stroke="#000" stroke-width="2.0" />
<line x1="1648.60" y1="177.68" x2="1640.60" y2="177.68" stroke="#000" stroke-width="2.0" />
<line x1="1229.60" y1="72.80" x2="1237.60" y2="72.80" stroke="#000" stroke-width="2.0" />
<line x1="1648.60" y1="72.80" x2="1640.60" y2="72.80" stroke="#000" stroke-width="2.0" />
<line x1="1229.60" y1="492.30" x2="1233.60" y2="492.30" stroke="#000" stroke-width="2.0" />
<line x1="1648.60" y1="492.30" x2="1644.60" y2="492.30" stroke="#000" stroke-width="2.0" />
<line x1="1229.60" y1="466.08" x2="1233.60" y2="466.08" stroke="#000" stroke-width="2.0" />
<line x1="1648.60" y1="466.08" x2="1644.60" y2="466.08" stroke="#000" stroke-width="2.0" />
<line x1="1229.60" y1="439.86" x2="1233.60" y2="439.86" stroke="#000" stroke-width="2.0" />
<line x1="1648.60" y1="439.86" x2="1644.60" y2="439.86" stroke="#000" stroke-width="2.0" />
<line x1="1229.60" y1="413.64" x2="1233.60" y2="413.64" stroke="#000" stroke-width="2.0" />
<line x1="1648.60" y1="413.64" x2="1644.60" y2="413.64" stroke="#000" stroke-width="2.0" />
<line x1="1229.60" y1="387.43" x2="1233.60" y2="387.43" stroke="#000" stroke-width="2.0" />
<line x1="1648.60" y1="387.43" x2="1644.60" y2="387.43" stroke="#000" stroke-width="2.0" />
<line x1="1229.60" y1="361.21" x2="1233.60" y2="361.21" stroke="#000" stroke-width="2.0" />
<line x1="1648.60" y1="361.21" x2="1644.60" y2="361.21" stroke="#000" stroke-width="2.0" />
<line x1="1229.60" y1="334.99" x2="1233.60" y2="334.99" stroke="#000" stroke-width="2.0" />
<line x1="1648.60" y1="334.99" x2="1644.60" y2="334.99" stroke="#000" stroke-width="2.0" />
<line x1="1229.60" y1="308.77" x2="1233.60" y2="308.77" stroke="#000" stroke-width="2.0" />
<line x1="1648.60" y1="308.77" x2="1644.60" y2="308.77" stroke="#000" stroke-width="2.0" />
<line x1="1229.60" y1="282.55" x2="1233.60" y2="282.55" stroke="#000" stroke-width="2.0" />
<line x1="1648.60" y1="282.55" x2="1644.60" y2="282.55" stroke="#000" stroke-width="2.0" />
<line x1="1229.60" y1="256.33" x2="1233.60" y2="256.33" stroke="#000" stroke-width="2.0" />
<line x1="1648.60" y1="256.33" x2="1644.60" y2="256.33" stroke="#000" stroke-width="2.0" />
<line x1="1229.60" y1="230.11" x2="1233.60" y2="230.11" stroke="#000" stroke-width="2.0" />
<line x1="1648.60" y1="230.11" x2="1644.60" y2="230.11" stroke="#000" stroke-width="2.0" />
<line x1="1229.60" y1="203.89" x2="1233.60" y2="203.89" stroke="#000" stroke-width="2.0" />
<line x1="1648.60" y1="203.89" x2="1644.60" y2="203.89" stroke="#000" stroke-width="2.0" />
<line x1="1229.60" y1="177.68" x2="1233.60" y2="177.68" stroke="#000" stroke-width="2.0" />
<line x1="1648.60" y1="177.68" x2="1644.60" y2="177.68" stroke="#000" stroke-width="2.0" />
<line x1="1229.60" y1="151.46" x2="1233.60" y2="151.46" stroke="#000" stroke-width="2.0" />
<line x1="1648.60" y1="151.46" x2="1644.60" y2="151.46" stroke="#000" stroke-width="2.0" />
<line x1="1229.60" y1="125.24" x2="1233.60" y2="125.24" stroke="#000" stroke-width="2.0" />
<line x1="1648.60" y1="125.24" x2="1644.60" y2="125.24" stroke="#000" stroke-width="2.0" />
<line x1="1229.60" y1="99.02" x2="1233.60" y2="99.02" stroke="#000" stroke-width="2.0" />
<line x1="1648.60" y1="99.02" x2="1644.60" y2="99.02" stroke="#000" stroke-width="2.0" />
<line x1="1229.60" y1="72.80" x2="1233.60" y2="72.80" stroke="#000" stroke-width="2.0" />
<line x1="1648.60" y1="72.80" x2="1644.60" y2="72.80" stroke="#000" stroke-width="2.0" />
<text transform="translate(1247.93,528.00) scale(0.785,1)" text-anchor="middle" font-size="29" font-weight="bold" fill="#000">12/31</text>
<text transform="translate(1310.78,528.00) scale(0.785,1)" text-anchor="middle" font-size="29" font-weight="bold" fill="#000">01/03</text>
<text transform="translate(1373.63,528.00) scale(0.785,1)" text-anchor="middle" font-size="29" font-weight="bold" fill="#000">01/06</text>
<text transform="translate(1436.48,528.00) scale(0.785,1)" text-anchor="middle" font-size="29" font-weight="bold" fill="#000">01/09</text>
<text transform="translate(1499.33,528.00) scale(0.785,1)" text-anchor="middle" font-size="29" font-weight="bold" fill="#000">01/12</text>
<text transform="translate(1562.18,528.00) scale(0.785,1)" text-anchor="middle" font-size="29" font-weight="bold" fill="#000">01/15</text>
<text transform="translate(1625.03,528.00) scale(0.785,1)" text-anchor="middle" font-size="29" font-weight="bold" fill="#000">01/18</text>
<text transform="translate(1222.60,492.60) scale(0.785,1)" text-anchor="end" font-size="29" font-weight="bold" fill="#000">0</text>
<text transform="translate(1222.60,397.53) scale(0.785,1)" text-anchor="end" font-size="29" font-weight="bold" fill="#000">200</text>
<text transform="translate(1222.60,292.65) scale(0.785,1)" text-anchor="end" font-size="29" font-weight="bold" fill="#000">400</text>
<text transform="translate(1222.60,187.78) scale(0.785,1)" text-anchor="end" font-size="29" font-weight="bold" fill="#000">600</text>
<text transform="translate(1222.60,89.10) scale(0.785,1)" text-anchor="end" font-size="29" font-weight="bold" fill="#000">800</text>
<polyline points="1229.4,278.3 1237.5,278.9 1244.4,273.7 1253.6,260.0 1259.3,250.8 1269.6,241.6 1280.0,234.7 1289.1,229.0 1299.5,218.6 1306.4,215.2 1313.3,218.6 1319.0,230.1 1323.6,246.2 1329.3,254.2 1336.0,257.4 1349.3,260.5 1360.7,271.5 1373.1,286.5 1385.5,300.7 1397.8,307.7 1404.9,307.3 1418.2,299.8 1428.8,284.8 1435.8,271.5 1440.5,257.0 1444.2,242.9 1452.0,236.5 1463.3,240.1 1470.4,228.8 1476.7,216.7 1482.4,210.4 1489.5,211.1 1498.7,214.6 1507.1,214.6 1514.2,211.1 1523.4,202.6 1528.3,204.7 1533.3,214.6 1541.8,230.9 1547.4,237.6 1556.1,242.2 1564.9,245.3 1572.8,244.1 1589.5,242.0 1596.0,241.3 1623.8,241.4" fill="none" stroke="#0000FF" stroke-width="2.8" stroke-linejoin="round" stroke-linecap="butt" stroke-dasharray="11 6"/>
<polyline points="1229.4,284.1 1236.9,282.3 1242.1,278.9 1249.0,272.6 1255.9,262.3 1260.4,251.9 1269.6,243.9 1276.5,241.6 1283.4,239.9 1287.4,237.0 1291.4,223.2 1297.2,202.6 1300.6,200.8 1304.1,196.8 1308.1,188.8 1311.5,190.5 1314.4,195.7 1317.8,209.4 1323.6,230.1 1328.2,249.6 1332.8,254.2 1336.0,259.2 1339.5,260.9 1346.6,258.7 1353.7,260.5 1360.7,268.9 1369.6,287.4 1378.4,295.4 1385.5,303.3 1391.7,303.3 1399.6,313.5 1406.7,312.2 1412.9,308.6 1419.0,302.4 1429.6,283.9 1436.7,267.1 1440.0,254.2 1444.2,245.0 1448.5,237.2 1452.0,233.7 1462.6,240.8 1466.1,238.0 1469.7,233.0 1475.3,226.6 1479.6,220.3 1485.2,214.3 1492.3,214.6 1498.0,216.0 1502.2,214.6 1505.0,210.4 1509.3,207.6 1513.5,203.0 1517.7,199.1 1523.0,197.0 1529.0,203.3 1533.3,211.8 1538.9,221.0 1544.6,228.1 1549.2,230.9" fill="none" stroke="#000" stroke-width="2.6" stroke-linejoin="round" stroke-linecap="round"/>
<line x1="1549.20" y1="72.80" x2="1549.20" y2="492.30" stroke="#000" stroke-width="2.0" stroke-dasharray="10.9 6.12"/>
<line x1="1246.10" y1="95.10" x2="1291.90" y2="95.10" stroke="#000" stroke-width="2.2" />
<line x1="1246.10" y1="118.30" x2="1291.90" y2="118.30" stroke="#0000FF" stroke-width="2.6" stroke-dasharray="11.4 5.6"/>
<text transform="translate(1304.30,100.50) scale(0.8,1)" text-anchor="start" font-size="23.7" font-weight="bold" fill="#000">ACE</text>
<text transform="translate(1304.30,123.60) scale(0.835,1)" text-anchor="start" font-size="23.7" font-weight="bold" fill="#000">IPS Tomography</text>
<text transform="translate(1439.10,44.40) scale(0.785,1)" text-anchor="middle" font-size="29" font-weight="bold" fill="#000">2026/01/14 09 UT</text>
<text transform="translate(1439.10,557.30) scale(0.785,1)" text-anchor="middle" font-size="29" font-weight="bold" fill="#000">start time 2025/12/30 03</text>
<text transform="translate(1163.60,282.55) rotate(-90) scale(0.785,1)" text-anchor="middle" font-size="29" font-weight="bold" fill="#000">V (km s<tspan font-size="12" dy="-13">-1</tspan><tspan dy="13">)</tspan></text>
<rect x="1785.50" y="72.80" width="418.80" height="419.50" fill="none" stroke="#000" stroke-width="2.2"/>
<line x1="1785.50" y1="492.30" x2="1785.50" y2="484.30" stroke="#000" stroke-width="2.0" />
<line x1="1785.50" y1="72.80" x2="1785.50" y2="80.80" stroke="#000" stroke-width="2.0" />
<line x1="1890.20" y1="492.30" x2="1890.20" y2="484.30" stroke="#000" stroke-width="2.0" />
<line x1="1890.20" y1="72.80" x2="1890.20" y2="80.80" stroke="#000" stroke-width="2.0" />
<line x1="1994.90" y1="492.30" x2="1994.90" y2="484.30" stroke="#000" stroke-width="2.0" />
<line x1="1994.90" y1="72.80" x2="1994.90" y2="80.80" stroke="#000" stroke-width="2.0" />
<line x1="2099.60" y1="492.30" x2="2099.60" y2="484.30" stroke="#000" stroke-width="2.0" />
<line x1="2099.60" y1="72.80" x2="2099.60" y2="80.80" stroke="#000" stroke-width="2.0" />
<line x1="2204.30" y1="492.30" x2="2204.30" y2="484.30" stroke="#000" stroke-width="2.0" />
<line x1="2204.30" y1="72.80" x2="2204.30" y2="80.80" stroke="#000" stroke-width="2.0" />
<line x1="1785.50" y1="492.30" x2="1785.50" y2="488.30" stroke="#000" stroke-width="2.0" />
<line x1="1785.50" y1="72.80" x2="1785.50" y2="76.80" stroke="#000" stroke-width="2.0" />
<line x1="1811.67" y1="492.30" x2="1811.67" y2="488.30" stroke="#000" stroke-width="2.0" />
<line x1="1811.67" y1="72.80" x2="1811.67" y2="76.80" stroke="#000" stroke-width="2.0" />
<line x1="1837.85" y1="492.30" x2="1837.85" y2="488.30" stroke="#000" stroke-width="2.0" />
<line x1="1837.85" y1="72.80" x2="1837.85" y2="76.80" stroke="#000" stroke-width="2.0" />
<line x1="1864.03" y1="492.30" x2="1864.03" y2="488.30" stroke="#000" stroke-width="2.0" />
<line x1="1864.03" y1="72.80" x2="1864.03" y2="76.80" stroke="#000" stroke-width="2.0" />
<line x1="1890.20" y1="492.30" x2="1890.20" y2="488.30" stroke="#000" stroke-width="2.0" />
<line x1="1890.20" y1="72.80" x2="1890.20" y2="76.80" stroke="#000" stroke-width="2.0" />
<line x1="1916.38" y1="492.30" x2="1916.38" y2="488.30" stroke="#000" stroke-width="2.0" />
<line x1="1916.38" y1="72.80" x2="1916.38" y2="76.80" stroke="#000" stroke-width="2.0" />
<line x1="1942.55" y1="492.30" x2="1942.55" y2="488.30" stroke="#000" stroke-width="2.0" />
<line x1="1942.55" y1="72.80" x2="1942.55" y2="76.80" stroke="#000" stroke-width="2.0" />
<line x1="1968.73" y1="492.30" x2="1968.73" y2="488.30" stroke="#000" stroke-width="2.0" />
<line x1="1968.73" y1="72.80" x2="1968.73" y2="76.80" stroke="#000" stroke-width="2.0" />
<line x1="1994.90" y1="492.30" x2="1994.90" y2="488.30" stroke="#000" stroke-width="2.0" />
<line x1="1994.90" y1="72.80" x2="1994.90" y2="76.80" stroke="#000" stroke-width="2.0" />
<line x1="2021.08" y1="492.30" x2="2021.08" y2="488.30" stroke="#000" stroke-width="2.0" />
<line x1="2021.08" y1="72.80" x2="2021.08" y2="76.80" stroke="#000" stroke-width="2.0" />
<line x1="2047.25" y1="492.30" x2="2047.25" y2="488.30" stroke="#000" stroke-width="2.0" />
<line x1="2047.25" y1="72.80" x2="2047.25" y2="76.80" stroke="#000" stroke-width="2.0" />
<line x1="2073.43" y1="492.30" x2="2073.43" y2="488.30" stroke="#000" stroke-width="2.0" />
<line x1="2073.43" y1="72.80" x2="2073.43" y2="76.80" stroke="#000" stroke-width="2.0" />
<line x1="2099.60" y1="492.30" x2="2099.60" y2="488.30" stroke="#000" stroke-width="2.0" />
<line x1="2099.60" y1="72.80" x2="2099.60" y2="76.80" stroke="#000" stroke-width="2.0" />
<line x1="2125.78" y1="492.30" x2="2125.78" y2="488.30" stroke="#000" stroke-width="2.0" />
<line x1="2125.78" y1="72.80" x2="2125.78" y2="76.80" stroke="#000" stroke-width="2.0" />
<line x1="2151.95" y1="492.30" x2="2151.95" y2="488.30" stroke="#000" stroke-width="2.0" />
<line x1="2151.95" y1="72.80" x2="2151.95" y2="76.80" stroke="#000" stroke-width="2.0" />
<line x1="2178.12" y1="492.30" x2="2178.12" y2="488.30" stroke="#000" stroke-width="2.0" />
<line x1="2178.12" y1="72.80" x2="2178.12" y2="76.80" stroke="#000" stroke-width="2.0" />
<line x1="2204.30" y1="492.30" x2="2204.30" y2="488.30" stroke="#000" stroke-width="2.0" />
<line x1="2204.30" y1="72.80" x2="2204.30" y2="76.80" stroke="#000" stroke-width="2.0" />
<line x1="1785.50" y1="492.30" x2="1793.50" y2="492.30" stroke="#000" stroke-width="2.0" />
<line x1="2204.30" y1="492.30" x2="2196.30" y2="492.30" stroke="#000" stroke-width="2.0" />
<line x1="1785.50" y1="387.43" x2="1793.50" y2="387.43" stroke="#000" stroke-width="2.0" />
<line x1="2204.30" y1="387.43" x2="2196.30" y2="387.43" stroke="#000" stroke-width="2.0" />
<line x1="1785.50" y1="282.55" x2="1793.50" y2="282.55" stroke="#000" stroke-width="2.0" />
<line x1="2204.30" y1="282.55" x2="2196.30" y2="282.55" stroke="#000" stroke-width="2.0" />
<line x1="1785.50" y1="177.68" x2="1793.50" y2="177.68" stroke="#000" stroke-width="2.0" />
<line x1="2204.30" y1="177.68" x2="2196.30" y2="177.68" stroke="#000" stroke-width="2.0" />
<line x1="1785.50" y1="72.80" x2="1793.50" y2="72.80" stroke="#000" stroke-width="2.0" />
<line x1="2204.30" y1="72.80" x2="2196.30" y2="72.80" stroke="#000" stroke-width="2.0" />
<line x1="1785.50" y1="492.30" x2="1789.50" y2="492.30" stroke="#000" stroke-width="2.0" />
<line x1="2204.30" y1="492.30" x2="2200.30" y2="492.30" stroke="#000" stroke-width="2.0" />
<line x1="1785.50" y1="466.08" x2="1789.50" y2="466.08" stroke="#000" stroke-width="2.0" />
<line x1="2204.30" y1="466.08" x2="2200.30" y2="466.08" stroke="#000" stroke-width="2.0" />
<line x1="1785.50" y1="439.86" x2="1789.50" y2="439.86" stroke="#000" stroke-width="2.0" />
<line x1="2204.30" y1="439.86" x2="2200.30" y2="439.86" stroke="#000" stroke-width="2.0" />
<line x1="1785.50" y1="413.64" x2="1789.50" y2="413.64" stroke="#000" stroke-width="2.0" />
<line x1="2204.30" y1="413.64" x2="2200.30" y2="413.64" stroke="#000" stroke-width="2.0" />
<line x1="1785.50" y1="387.43" x2="1789.50" y2="387.43" stroke="#000" stroke-width="2.0" />
<line x1="2204.30" y1="387.43" x2="2200.30" y2="387.43" stroke="#000" stroke-width="2.0" />
<line x1="1785.50" y1="361.21" x2="1789.50" y2="361.21" stroke="#000" stroke-width="2.0" />
<line x1="2204.30" y1="361.21" x2="2200.30" y2="361.21" stroke="#000" stroke-width="2.0" />
<line x1="1785.50" y1="334.99" x2="1789.50" y2="334.99" stroke="#000" stroke-width="2.0" />
<line x1="2204.30" y1="334.99" x2="2200.30" y2="334.99" stroke="#000" stroke-width="2.0" />
<line x1="1785.50" y1="308.77" x2="1789.50" y2="308.77" stroke="#000" stroke-width="2.0" />
<line x1="2204.30" y1="308.77" x2="2200.30" y2="308.77" stroke="#000" stroke-width="2.0" />
<line x1="1785.50" y1="282.55" x2="1789.50" y2="282.55" stroke="#000" stroke-width="2.0" />
<line x1="2204.30" y1="282.55" x2="2200.30" y2="282.55" stroke="#000" stroke-width="2.0" />
<line x1="1785.50" y1="256.33" x2="1789.50" y2="256.33" stroke="#000" stroke-width="2.0" />
<line x1="2204.30" y1="256.33" x2="2200.30" y2="256.33" stroke="#000" stroke-width="2.0" />
<line x1="1785.50" y1="230.11" x2="1789.50" y2="230.11" stroke="#000" stroke-width="2.0" />
<line x1="2204.30" y1="230.11" x2="2200.30" y2="230.11" stroke="#000" stroke-width="2.0" />
<line x1="1785.50" y1="203.89" x2="1789.50" y2="203.89" stroke="#000" stroke-width="2.0" />
<line x1="2204.30" y1="203.89" x2="2200.30" y2="203.89" stroke="#000" stroke-width="2.0" />
<line x1="1785.50" y1="177.68" x2="1789.50" y2="177.68" stroke="#000" stroke-width="2.0" />
<line x1="2204.30" y1="177.68" x2="2200.30" y2="177.68" stroke="#000" stroke-width="2.0" />
<line x1="1785.50" y1="151.46" x2="1789.50" y2="151.46" stroke="#000" stroke-width="2.0" />
<line x1="2204.30" y1="151.46" x2="2200.30" y2="151.46" stroke="#000" stroke-width="2.0" />
<line x1="1785.50" y1="125.24" x2="1789.50" y2="125.24" stroke="#000" stroke-width="2.0" />
<line x1="2204.30" y1="125.24" x2="2200.30" y2="125.24" stroke="#000" stroke-width="2.0" />
<line x1="1785.50" y1="99.02" x2="1789.50" y2="99.02" stroke="#000" stroke-width="2.0" />
<line x1="2204.30" y1="99.02" x2="2200.30" y2="99.02" stroke="#000" stroke-width="2.0" />
<line x1="1785.50" y1="72.80" x2="1789.50" y2="72.80" stroke="#000" stroke-width="2.0" />
<line x1="2204.30" y1="72.80" x2="2200.30" y2="72.80" stroke="#000" stroke-width="2.0" />
<text transform="translate(1785.50,528.00) scale(0.785,1)" text-anchor="middle" font-size="29" font-weight="bold" fill="#000">0</text>
<text transform="translate(1890.20,528.00) scale(0.785,1)" text-anchor="middle" font-size="29" font-weight="bold" fill="#000">200</text>
<text transform="translate(1994.90,528.00) scale(0.785,1)" text-anchor="middle" font-size="29" font-weight="bold" fill="#000">400</text>
<text transform="translate(2099.60,528.00) scale(0.785,1)" text-anchor="middle" font-size="29" font-weight="bold" fill="#000">600</text>
<text transform="translate(2204.30,528.00) scale(0.785,1)" text-anchor="middle" font-size="29" font-weight="bold" fill="#000">800</text>
<text transform="translate(1778.50,492.60) scale(0.785,1)" text-anchor="end" font-size="29" font-weight="bold" fill="#000">0</text>
<text transform="translate(1778.50,397.53) scale(0.785,1)" text-anchor="end" font-size="29" font-weight="bold" fill="#000">200</text>
<text transform="translate(1778.50,292.65) scale(0.785,1)" text-anchor="end" font-size="29" font-weight="bold" fill="#000">400</text>
<text transform="translate(1778.50,187.78) scale(0.785,1)" text-anchor="end" font-size="29" font-weight="bold" fill="#000">600</text>
<text transform="translate(1778.50,89.10) scale(0.785,1)" text-anchor="end" font-size="29" font-weight="bold" fill="#000">800</text>
<use href="#ast" x="1998.9" y="283.4"/>
<use href="#ast" x="1998.7" y="282.8"/>
<use href="#ast" x="1998.5" y="281.9"/>
<use href="#ast" x="2000.5" y="280.2"/>
<use href="#ast" x="2002.5" y="278.4"/>
<use href="#ast" x="2005.1" y="276.0"/>
<use href="#ast" x="2009.0" y="273.6"/>
<use href="#ast" x="2012.9" y="270.3"/>
<use href="#ast" x="2016.8" y="266.4"/>
<use href="#ast" x="2020.9" y="262.5"/>
<use href="#ast" x="2025.2" y="256.5"/>
<use href="#ast" x="2028.1" y="251.4"/>
<use href="#ast" x="2030.5" y="249.1"/>
<use href="#ast" x="2032.8" y="246.8"/>
<use href="#ast" x="2035.1" y="244.5"/>
<use href="#ast" x="2037.0" y="243.3"/>
<use href="#ast" x="2038.8" y="242.4"/>
<use href="#ast" x="2040.5" y="241.5"/>
<use href="#ast" x="2042.2" y="240.9"/>
<use href="#ast" x="2043.9" y="240.3"/>
<use href="#ast" x="2045.5" y="239.0"/>
<use href="#ast" x="2047.2" y="237.1"/>
<use href="#ast" x="2049.1" y="228.6"/>
<use href="#ast" x="2051.7" y="219.5"/>
<use href="#ast" x="2054.3" y="210.2"/>
<use href="#ast" x="2056.9" y="202.3"/>
<use href="#ast" x="2059.1" y="201.0"/>
<use href="#ast" x="2060.4" y="198.1"/>
<use href="#ast" x="2061.7" y="193.9"/>
<use href="#ast" x="2061.3" y="188.8"/>
<use href="#ast" x="2060.0" y="190.1"/>
<use href="#ast" x="2058.5" y="193.9"/>
<use href="#ast" x="2053.3" y="202.2"/>
<use href="#ast" x="2048.0" y="212.4"/>
<use href="#ast" x="2039.4" y="221.7"/>
<use href="#ast" x="2030.8" y="231.3"/>
<use href="#ast" x="2027.1" y="242.4"/>
<use href="#ast" x="2023.5" y="250.5"/>
<use href="#ast" x="2022.0" y="253.1"/>
<use href="#ast" x="2020.8" y="256.6"/>
<use href="#ast" x="2019.8" y="259.7"/>
<use href="#ast" x="2019.2" y="260.9"/>
<use href="#ast" x="2018.6" y="260.1"/>
<use href="#ast" x="2018.0" y="259.2"/>
<use href="#ast" x="2017.3" y="258.9"/>
<use href="#ast" x="2016.2" y="259.6"/>
<use href="#ast" x="2013.7" y="260.2"/>
<use href="#ast" x="2011.1" y="262.4"/>
<use href="#ast" x="2008.6" y="265.6"/>
<use href="#ast" x="2006.1" y="268.7"/>
<use href="#ast" x="2003.0" y="274.0"/>
<use href="#ast" x="1999.8" y="279.4"/>
<use href="#ast" x="1996.6" y="284.9"/>
<use href="#ast" x="1993.5" y="288.7"/>
<use href="#ast" x="1990.3" y="291.1"/>
<use href="#ast" x="1987.4" y="293.4"/>
<use href="#ast" x="1984.4" y="295.9"/>
<use href="#ast" x="1981.4" y="298.8"/>
<use href="#ast" x="1978.4" y="301.7"/>
<use href="#ast" x="1976.1" y="303.3"/>
<use href="#ast" x="1974.6" y="303.3"/>
<use href="#ast" x="1973.1" y="303.6"/>
<use href="#ast" x="1971.6" y="307.0"/>
<use href="#ast" x="1970.1" y="310.4"/>
<use href="#ast" x="1969.9" y="313.5"/>
<use href="#ast" x="1970.1" y="313.0"/>
<use href="#ast" x="1970.3" y="312.5"/>
<use href="#ast" x="1971.8" y="311.6"/>
<use href="#ast" x="1973.2" y="310.1"/>
<use href="#ast" x="1974.7" y="308.6"/>
<use href="#ast" x="1976.2" y="305.9"/>
<use href="#ast" x="1977.7" y="303.3"/>
<use href="#ast" x="1981.3" y="299.3"/>
<use href="#ast" x="1985.0" y="294.7"/>
<use href="#ast" x="1988.7" y="290.2"/>
<use href="#ast" x="1992.4" y="285.6"/>
<use href="#ast" x="1997.3" y="280.0"/>
<use href="#ast" x="2002.3" y="273.8"/>
<use href="#ast" x="2008.0" y="267.6"/>
<use href="#ast" x="2016.1" y="257.7"/>
<use href="#ast" x="2025.0" y="250.4"/>
<use href="#ast" x="2034.6" y="244.8"/>
<use href="#ast" x="2036.7" y="240.0"/>
<use href="#ast" x="2038.9" y="236.1"/>
<use href="#ast" x="2040.8" y="233.8"/>
<use href="#ast" x="2040.0" y="235.6"/>
<use href="#ast" x="2039.1" y="237.3"/>
<use href="#ast" x="2038.3" y="239.1"/>
<use href="#ast" x="2037.5" y="240.7"/>
<use href="#ast" x="2040.4" y="238.6"/>
<use href="#ast" x="2044.6" y="235.5"/>
<use href="#ast" x="2048.8" y="232.1"/>
<use href="#ast" x="2053.8" y="229.1"/>
<use href="#ast" x="2058.8" y="225.9"/>
<use href="#ast" x="2062.5" y="222.1"/>
<use href="#ast" x="2065.4" y="218.8"/>
<use href="#ast" x="2066.8" y="216.0"/>
<use href="#ast" x="2066.6" y="214.3"/>
<use href="#ast" x="2066.3" y="214.5"/>
<use href="#ast" x="2065.5" y="214.6"/>
<use href="#ast" x="2064.5" y="215.0"/>
<use href="#ast" x="2063.5" y="215.7"/>
<use href="#ast" x="2062.7" y="215.6"/>
<use href="#ast" x="2062.7" y="214.7"/>
<use href="#ast" x="2062.7" y="211.0"/>
<use href="#ast" x="2062.8" y="209.0"/>
<use href="#ast" x="2064.1" y="207.0"/>
<use href="#ast" x="2065.4" y="204.2"/>
<use href="#ast" x="2067.0" y="201.6"/>
<use href="#ast" x="2069.4" y="199.1"/>
<use href="#ast" x="2071.8" y="198.1"/>
<use href="#ast" x="2074.3" y="197.0"/>
<use href="#ast" x="2073.8" y="199.6"/>
<use href="#ast" x="2072.7" y="202.4"/>
<use href="#ast" x="2067.8" y="206.8"/>
<use href="#ast" x="2062.6" y="211.9"/>
<use href="#ast" x="2057.6" y="216.2"/>
<use href="#ast" x="2052.6" y="220.5"/>
<use href="#ast" x="2047.6" y="223.9"/>
<use href="#ast" x="2044.0" y="227.2"/>
<use href="#ast" x="2040.9" y="229.2"/>
<use href="#ast" x="2038.9" y="230.8"/>
<line x1="1959.30" y1="323.00" x2="2093.40" y2="174.80" stroke="#000" stroke-width="2.0" />
<text transform="translate(1994.90,44.40) scale(0.785,1)" text-anchor="middle" font-size="29" font-weight="bold" fill="#000">correlation 0.984</text>
<text transform="translate(1994.90,557.30) scale(0.785,1)" text-anchor="middle" font-size="29" font-weight="bold" fill="#000">IPS Tomography V (km s<tspan font-size="12" dy="-13">-1</tspan><tspan dy="13">)</tspan></text>
<text transform="translate(1719.50,282.55) rotate(-90) scale(0.785,1)" text-anchor="middle" font-size="29" font-weight="bold" fill="#000">ACE V (km s<tspan font-size="12" dy="-13">-1</tspan><tspan dy="13">)</tspan></text>
<rect x="96.50" y="638.80" width="419.00" height="419.70" fill="none" stroke="#000" stroke-width="2.2"/>
<line x1="115.80" y1="1058.50" x2="115.80" y2="1050.50" stroke="#000" stroke-width="2.0" />
<line x1="115.80" y1="638.80" x2="115.80" y2="646.80" stroke="#000" stroke-width="2.0" />
<line x1="181.95" y1="1058.50" x2="181.95" y2="1050.50" stroke="#000" stroke-width="2.0" />
<line x1="181.95" y1="638.80" x2="181.95" y2="646.80" stroke="#000" stroke-width="2.0" />
<line x1="248.11" y1="1058.50" x2="248.11" y2="1050.50" stroke="#000" stroke-width="2.0" />
<line x1="248.11" y1="638.80" x2="248.11" y2="646.80" stroke="#000" stroke-width="2.0" />
<line x1="314.27" y1="1058.50" x2="314.27" y2="1050.50" stroke="#000" stroke-width="2.0" />
<line x1="314.27" y1="638.80" x2="314.27" y2="646.80" stroke="#000" stroke-width="2.0" />
<line x1="380.43" y1="1058.50" x2="380.43" y2="1050.50" stroke="#000" stroke-width="2.0" />
<line x1="380.43" y1="638.80" x2="380.43" y2="646.80" stroke="#000" stroke-width="2.0" />
<line x1="446.59" y1="1058.50" x2="446.59" y2="1050.50" stroke="#000" stroke-width="2.0" />
<line x1="446.59" y1="638.80" x2="446.59" y2="646.80" stroke="#000" stroke-width="2.0" />
<line x1="512.74" y1="1058.50" x2="512.74" y2="1050.50" stroke="#000" stroke-width="2.0" />
<line x1="512.74" y1="638.80" x2="512.74" y2="646.80" stroke="#000" stroke-width="2.0" />
<line x1="115.80" y1="1058.50" x2="115.80" y2="1054.50" stroke="#000" stroke-width="2.0" />
<line x1="115.80" y1="638.80" x2="115.80" y2="642.80" stroke="#000" stroke-width="2.0" />
<line x1="137.85" y1="1058.50" x2="137.85" y2="1054.50" stroke="#000" stroke-width="2.0" />
<line x1="137.85" y1="638.80" x2="137.85" y2="642.80" stroke="#000" stroke-width="2.0" />
<line x1="159.90" y1="1058.50" x2="159.90" y2="1054.50" stroke="#000" stroke-width="2.0" />
<line x1="159.90" y1="638.80" x2="159.90" y2="642.80" stroke="#000" stroke-width="2.0" />
<line x1="181.95" y1="1058.50" x2="181.95" y2="1054.50" stroke="#000" stroke-width="2.0" />
<line x1="181.95" y1="638.80" x2="181.95" y2="642.80" stroke="#000" stroke-width="2.0" />
<line x1="204.01" y1="1058.50" x2="204.01" y2="1054.50" stroke="#000" stroke-width="2.0" />
<line x1="204.01" y1="638.80" x2="204.01" y2="642.80" stroke="#000" stroke-width="2.0" />
<line x1="226.06" y1="1058.50" x2="226.06" y2="1054.50" stroke="#000" stroke-width="2.0" />
<line x1="226.06" y1="638.80" x2="226.06" y2="642.80" stroke="#000" stroke-width="2.0" />
<line x1="248.11" y1="1058.50" x2="248.11" y2="1054.50" stroke="#000" stroke-width="2.0" />
<line x1="248.11" y1="638.80" x2="248.11" y2="642.80" stroke="#000" stroke-width="2.0" />
<line x1="270.16" y1="1058.50" x2="270.16" y2="1054.50" stroke="#000" stroke-width="2.0" />
<line x1="270.16" y1="638.80" x2="270.16" y2="642.80" stroke="#000" stroke-width="2.0" />
<line x1="292.22" y1="1058.50" x2="292.22" y2="1054.50" stroke="#000" stroke-width="2.0" />
<line x1="292.22" y1="638.80" x2="292.22" y2="642.80" stroke="#000" stroke-width="2.0" />
<line x1="314.27" y1="1058.50" x2="314.27" y2="1054.50" stroke="#000" stroke-width="2.0" />
<line x1="314.27" y1="638.80" x2="314.27" y2="642.80" stroke="#000" stroke-width="2.0" />
<line x1="336.32" y1="1058.50" x2="336.32" y2="1054.50" stroke="#000" stroke-width="2.0" />
<line x1="336.32" y1="638.80" x2="336.32" y2="642.80" stroke="#000" stroke-width="2.0" />
<line x1="358.38" y1="1058.50" x2="358.38" y2="1054.50" stroke="#000" stroke-width="2.0" />
<line x1="358.38" y1="638.80" x2="358.38" y2="642.80" stroke="#000" stroke-width="2.0" />
<line x1="380.43" y1="1058.50" x2="380.43" y2="1054.50" stroke="#000" stroke-width="2.0" />
<line x1="380.43" y1="638.80" x2="380.43" y2="642.80" stroke="#000" stroke-width="2.0" />
<line x1="402.48" y1="1058.50" x2="402.48" y2="1054.50" stroke="#000" stroke-width="2.0" />
<line x1="402.48" y1="638.80" x2="402.48" y2="642.80" stroke="#000" stroke-width="2.0" />
<line x1="424.53" y1="1058.50" x2="424.53" y2="1054.50" stroke="#000" stroke-width="2.0" />
<line x1="424.53" y1="638.80" x2="424.53" y2="642.80" stroke="#000" stroke-width="2.0" />
<line x1="446.59" y1="1058.50" x2="446.59" y2="1054.50" stroke="#000" stroke-width="2.0" />
<line x1="446.59" y1="638.80" x2="446.59" y2="642.80" stroke="#000" stroke-width="2.0" />
<line x1="468.64" y1="1058.50" x2="468.64" y2="1054.50" stroke="#000" stroke-width="2.0" />
<line x1="468.64" y1="638.80" x2="468.64" y2="642.80" stroke="#000" stroke-width="2.0" />
<line x1="490.69" y1="1058.50" x2="490.69" y2="1054.50" stroke="#000" stroke-width="2.0" />
<line x1="490.69" y1="638.80" x2="490.69" y2="642.80" stroke="#000" stroke-width="2.0" />
<line x1="512.74" y1="1058.50" x2="512.74" y2="1054.50" stroke="#000" stroke-width="2.0" />
<line x1="512.74" y1="638.80" x2="512.74" y2="642.80" stroke="#000" stroke-width="2.0" />
<line x1="96.50" y1="1058.50" x2="104.50" y2="1058.50" stroke="#000" stroke-width="2.0" />
<line x1="515.50" y1="1058.50" x2="507.50" y2="1058.50" stroke="#000" stroke-width="2.0" />
<line x1="96.50" y1="953.58" x2="104.50" y2="953.58" stroke="#000" stroke-width="2.0" />
<line x1="515.50" y1="953.58" x2="507.50" y2="953.58" stroke="#000" stroke-width="2.0" />
<line x1="96.50" y1="848.65" x2="104.50" y2="848.65" stroke="#000" stroke-width="2.0" />
<line x1="515.50" y1="848.65" x2="507.50" y2="848.65" stroke="#000" stroke-width="2.0" />
<line x1="96.50" y1="743.72" x2="104.50" y2="743.72" stroke="#000" stroke-width="2.0" />
<line x1="515.50" y1="743.72" x2="507.50" y2="743.72" stroke="#000" stroke-width="2.0" />
<line x1="96.50" y1="638.80" x2="104.50" y2="638.80" stroke="#000" stroke-width="2.0" />
<line x1="515.50" y1="638.80" x2="507.50" y2="638.80" stroke="#000" stroke-width="2.0" />
<line x1="96.50" y1="1058.50" x2="100.50" y2="1058.50" stroke="#000" stroke-width="2.0" />
<line x1="515.50" y1="1058.50" x2="511.50" y2="1058.50" stroke="#000" stroke-width="2.0" />
<line x1="96.50" y1="1032.27" x2="100.50" y2="1032.27" stroke="#000" stroke-width="2.0" />
<line x1="515.50" y1="1032.27" x2="511.50" y2="1032.27" stroke="#000" stroke-width="2.0" />
<line x1="96.50" y1="1006.04" x2="100.50" y2="1006.04" stroke="#000" stroke-width="2.0" />
<line x1="515.50" y1="1006.04" x2="511.50" y2="1006.04" stroke="#000" stroke-width="2.0" />
<line x1="96.50" y1="979.81" x2="100.50" y2="979.81" stroke="#000" stroke-width="2.0" />
<line x1="515.50" y1="979.81" x2="511.50" y2="979.81" stroke="#000" stroke-width="2.0" />
<line x1="96.50" y1="953.58" x2="100.50" y2="953.58" stroke="#000" stroke-width="2.0" />
<line x1="515.50" y1="953.58" x2="511.50" y2="953.58" stroke="#000" stroke-width="2.0" />
<line x1="96.50" y1="927.34" x2="100.50" y2="927.34" stroke="#000" stroke-width="2.0" />
<line x1="515.50" y1="927.34" x2="511.50" y2="927.34" stroke="#000" stroke-width="2.0" />
<line x1="96.50" y1="901.11" x2="100.50" y2="901.11" stroke="#000" stroke-width="2.0" />
<line x1="515.50" y1="901.11" x2="511.50" y2="901.11" stroke="#000" stroke-width="2.0" />
<line x1="96.50" y1="874.88" x2="100.50" y2="874.88" stroke="#000" stroke-width="2.0" />
<line x1="515.50" y1="874.88" x2="511.50" y2="874.88" stroke="#000" stroke-width="2.0" />
<line x1="96.50" y1="848.65" x2="100.50" y2="848.65" stroke="#000" stroke-width="2.0" />
<line x1="515.50" y1="848.65" x2="511.50" y2="848.65" stroke="#000" stroke-width="2.0" />
<line x1="96.50" y1="822.42" x2="100.50" y2="822.42" stroke="#000" stroke-width="2.0" />
<line x1="515.50" y1="822.42" x2="511.50" y2="822.42" stroke="#000" stroke-width="2.0" />
<line x1="96.50" y1="796.19" x2="100.50" y2="796.19" stroke="#000" stroke-width="2.0" />
<line x1="515.50" y1="796.19" x2="511.50" y2="796.19" stroke="#000" stroke-width="2.0" />
<line x1="96.50" y1="769.96" x2="100.50" y2="769.96" stroke="#000" stroke-width="2.0" />
<line x1="515.50" y1="769.96" x2="511.50" y2="769.96" stroke="#000" stroke-width="2.0" />
<line x1="96.50" y1="743.72" x2="100.50" y2="743.72" stroke="#000" stroke-width="2.0" />
<line x1="515.50" y1="743.72" x2="511.50" y2="743.72" stroke="#000" stroke-width="2.0" />
<line x1="96.50" y1="717.49" x2="100.50" y2="717.49" stroke="#000" stroke-width="2.0" />
<line x1="515.50" y1="717.49" x2="511.50" y2="717.49" stroke="#000" stroke-width="2.0" />
<line x1="96.50" y1="691.26" x2="100.50" y2="691.26" stroke="#000" stroke-width="2.0" />
<line x1="515.50" y1="691.26" x2="511.50" y2="691.26" stroke="#000" stroke-width="2.0" />
<line x1="96.50" y1="665.03" x2="100.50" y2="665.03" stroke="#000" stroke-width="2.0" />
<line x1="515.50" y1="665.03" x2="511.50" y2="665.03" stroke="#000" stroke-width="2.0" />
<line x1="96.50" y1="638.80" x2="100.50" y2="638.80" stroke="#000" stroke-width="2.0" />
<line x1="515.50" y1="638.80" x2="511.50" y2="638.80" stroke="#000" stroke-width="2.0" />
<text transform="translate(115.80,1094.20) scale(0.785,1)" text-anchor="middle" font-size="29" font-weight="bold" fill="#000">01/01</text>
<text transform="translate(181.95,1094.20) scale(0.785,1)" text-anchor="middle" font-size="29" font-weight="bold" fill="#000">01/04</text>
<text transform="translate(248.11,1094.20) scale(0.785,1)" text-anchor="middle" font-size="29" font-weight="bold" fill="#000">01/07</text>
<text transform="translate(314.27,1094.20) scale(0.785,1)" text-anchor="middle" font-size="29" font-weight="bold" fill="#000">01/10</text>
<text transform="translate(380.43,1094.20) scale(0.785,1)" text-anchor="middle" font-size="29" font-weight="bold" fill="#000">01/13</text>
<text transform="translate(446.59,1094.20) scale(0.785,1)" text-anchor="middle" font-size="29" font-weight="bold" fill="#000">01/16</text>
<text transform="translate(512.74,1094.20) scale(0.785,1)" text-anchor="middle" font-size="29" font-weight="bold" fill="#000">01/19</text>
<text transform="translate(89.50,1058.80) scale(0.785,1)" text-anchor="end" font-size="29" font-weight="bold" fill="#000">-4</text>
<text transform="translate(89.50,963.68) scale(0.785,1)" text-anchor="end" font-size="29" font-weight="bold" fill="#000">-2</text>
<text transform="translate(89.50,858.75) scale(0.785,1)" text-anchor="end" font-size="29" font-weight="bold" fill="#000">0</text>
<text transform="translate(89.50,753.82) scale(0.785,1)" text-anchor="end" font-size="29" font-weight="bold" fill="#000">2</text>
<text transform="translate(89.50,655.10) scale(0.785,1)" text-anchor="end" font-size="29" font-weight="bold" fill="#000">4</text>
<path d="M106.7,855.8C107.4,854.8 109.6,852.8 111.0,849.5C112.4,846.2 113.8,838.7 115.2,836.0C116.6,833.3 117.6,831.9 119.4,833.2C121.2,834.5 123.8,843.8 125.8,843.8C127.8,843.8 129.8,835.4 131.5,833.2C133.2,831.0 134.2,830.0 135.7,830.4C137.2,830.8 138.7,832.3 140.6,835.3C142.5,838.2 145.1,846.7 147.0,848.1C148.9,849.5 150.3,845.8 152.0,843.8C153.7,841.8 155.3,836.9 156.9,836.0C158.5,835.1 160.2,836.3 161.8,838.2C163.5,840.1 165.2,845.3 166.8,847.3C168.5,849.3 169.9,851.2 171.7,850.2C173.5,849.2 175.8,843.0 177.4,841.0C179.1,839.0 179.9,837.3 181.6,838.2C183.2,839.1 185.5,844.0 187.3,846.6C189.1,849.2 190.4,853.7 192.2,853.7C194.0,853.7 196.3,848.7 197.9,846.6C199.5,844.5 200.9,841.9 202.0,841.0C203.1,840.1 203.1,840.0 204.2,841.0C205.3,842.0 206.8,844.8 208.5,847.3C210.2,849.8 212.4,854.8 214.1,855.8C215.8,856.8 217.1,854.6 218.4,853.0C219.7,851.4 221.0,847.3 221.9,845.9C222.8,844.5 222.9,843.5 224.0,844.5C225.1,845.5 226.9,849.5 228.3,851.6C229.7,853.7 231.2,857.0 232.5,857.2C233.8,857.4 234.8,855.8 236.0,853.0C237.2,850.2 238.5,843.0 239.6,840.3C240.7,837.6 241.5,836.7 242.4,836.7C243.3,836.7 243.8,837.2 245.2,840.3C246.6,843.4 249.1,853.3 250.9,855.1C252.7,856.9 254.2,852.9 255.8,850.9C257.4,848.9 258.8,843.7 260.8,843.1C262.8,842.5 265.3,847.4 267.8,847.3C270.3,847.2 274.3,843.2 275.6,842.4" fill="none" stroke="#008000" stroke-width="2.8" stroke-linecap="butt" stroke-linejoin="round" stroke-dasharray="11 6"/>
<path d="M310.6,860.8C311.2,859.0 313.2,853.0 314.3,850.2C315.4,847.4 315.9,844.1 317.0,843.8C318.1,843.5 320.2,846.9 321.2,848.6C322.2,850.3 321.7,851.4 322.8,853.9C323.9,856.4 326.3,862.4 327.6,863.5C328.9,864.6 329.4,861.6 330.7,860.3C332.0,859.0 333.8,855.1 335.5,855.5C337.2,855.9 339.3,860.6 340.8,862.9C342.3,865.2 342.7,869.3 344.5,869.3C346.3,869.3 349.5,865.1 351.4,862.9C353.2,860.7 353.8,856.2 355.6,856.0C357.4,855.8 359.8,859.6 362.0,861.9C364.2,864.2 366.9,869.2 368.9,869.8C370.8,870.4 372.1,867.4 373.7,865.6C375.3,863.8 376.6,859.6 378.4,859.2C380.2,858.9 382.2,861.5 384.3,863.5C386.4,865.5 389.2,870.9 391.2,871.4C393.2,871.9 394.8,868.5 396.4,866.6C398.0,864.8 398.9,860.4 400.7,860.3C402.5,860.2 405.0,863.8 407.0,866.1C409.0,868.4 411.0,873.3 412.9,874.1C414.8,874.9 416.5,872.6 418.2,870.9C419.9,869.2 421.0,864.2 422.9,864.0C424.8,863.8 427.2,867.3 429.3,869.8C431.4,872.3 433.9,877.9 435.7,878.8C437.5,879.7 438.3,877.0 439.9,875.1C441.5,873.2 443.4,867.7 445.2,867.2C447.0,866.7 448.4,869.4 450.5,871.9C452.6,874.4 455.9,881.0 457.9,882.0C459.8,883.0 460.5,879.8 462.2,877.8C463.9,875.8 466.3,871.0 468.0,870.3C469.7,869.6 470.6,871.5 472.2,873.5C473.8,875.5 475.8,881.5 477.5,882.0C479.2,882.5 480.9,878.8 482.3,876.2C483.7,873.6 485.4,868.2 486.0,866.6" fill="none" stroke="#008000" stroke-width="2.8" stroke-linecap="butt" stroke-linejoin="round" stroke-dasharray="11 6"/>
<polyline points="96.5,815.5 98.9,820.5 102.5,822.6 104.6,829.0 107.4,826.9 110.3,829.7 113.1,829.0 115.9,834.6 118.7,831.1 121.6,832.2 126.5,855.1 129.3,872.8 132.2,874.2 135.0,885.5 137.8,891.2 140.6,912.4 143.5,915.9 146.3,914.5 151.2,898.9 156.9,901.8 162.6,884.8 165.4,881.3 168.2,886.2 171.0,888.3 176.0,915.9 179.5,921.6 181.6,930.7 184.5,931.4 187.3,936.4 190.1,934.3 194.4,939.9 201.0,947.4 204.2,939.9 209.2,919.4 212.0,915.2 214.8,918.7 217.7,927.9 220.5,915.2 224.0,911.7 226.1,911.7 229.0,918.0 231.8,930.0 234.6,930.7 239.6,949.8 242.4,953.4 246.6,934.3 250.2,905.3 253.7,899.6 256.5,901.1 259.4,911.7 266.4,901.8 270.0,894.0 273.5,901.1 278.4,913.1 281.3,913.1 283.7,905.3 287.7,922.7 291.4,956.3 294.2,971.9 300.5,986.7 303.4,976.1 305.5,943.6 309.0,940.1 311.9,940.1 314.7,954.9 316.8,988.8 319.6,1005.8 322.5,1008.6 326.0,1005.8 328.1,998.0 330.9,1002.3 333.8,1002.3 336.6,994.5 340.1,1000.1 344.4,1013.6 347.9,1020.6 350.0,1035.5 352.8,1031.9 356.4,1034.1 358.5,1021.3 363.4,1004.4 366.3,988.1 369.1,982.5 372.6,993.1 374.8,981.1 377.6,978.9 381.1,971.9 383.9,953.5 388.2,940.8 391.4,926.9 394.6,924.4 399.6,915.9 402.8,929.2 406.0,933.9 410.8,911.2" fill="none" stroke="#000" stroke-width="2.6" stroke-linejoin="round" stroke-linecap="round"/>
<line x1="411.00" y1="638.80" x2="411.00" y2="1058.50" stroke="#000" stroke-width="2.0" stroke-dasharray="10.9 6.12"/>
<line x1="113.30" y1="660.30" x2="158.70" y2="660.30" stroke="#000" stroke-width="2.2" />
<line x1="113.30" y1="683.50" x2="158.90" y2="683.50" stroke="#008000" stroke-width="2.6" stroke-dasharray="11.4 5.6"/>
<text transform="translate(170.90,665.70) scale(0.8,1)" text-anchor="start" font-size="23.7" font-weight="bold" fill="#000">ACE</text>
<text transform="translate(170.90,688.80) scale(0.835,1)" text-anchor="start" font-size="23.7" font-weight="bold" fill="#000">IPS Tomography</text>
<text transform="translate(306.00,610.40) scale(0.785,1)" text-anchor="middle" font-size="29" font-weight="bold" fill="#000">2026/01/14 09 UT</text>
<text transform="translate(306.00,1123.50) scale(0.785,1)" text-anchor="middle" font-size="29" font-weight="bold" fill="#000">start time 2025/12/31 03</text>
<text transform="translate(46.80,850.65) rotate(-90) scale(0.785,1)" text-anchor="middle" font-size="29" font-weight="bold" fill="#000">B<tspan font-size="19" dy="5">z</tspan><tspan dy="-5"> (nT)</tspan></text>
<rect x="652.00" y="638.80" width="419.50" height="419.70" fill="none" stroke="#000" stroke-width="2.2"/>
<line x1="652.00" y1="1058.50" x2="652.00" y2="1050.50" stroke="#000" stroke-width="2.0" />
<line x1="652.00" y1="638.80" x2="652.00" y2="646.80" stroke="#000" stroke-width="2.0" />
<line x1="756.88" y1="1058.50" x2="756.88" y2="1050.50" stroke="#000" stroke-width="2.0" />
<line x1="756.88" y1="638.80" x2="756.88" y2="646.80" stroke="#000" stroke-width="2.0" />
<line x1="861.75" y1="1058.50" x2="861.75" y2="1050.50" stroke="#000" stroke-width="2.0" />
<line x1="861.75" y1="638.80" x2="861.75" y2="646.80" stroke="#000" stroke-width="2.0" />
<line x1="966.62" y1="1058.50" x2="966.62" y2="1050.50" stroke="#000" stroke-width="2.0" />
<line x1="966.62" y1="638.80" x2="966.62" y2="646.80" stroke="#000" stroke-width="2.0" />
<line x1="1071.50" y1="1058.50" x2="1071.50" y2="1050.50" stroke="#000" stroke-width="2.0" />
<line x1="1071.50" y1="638.80" x2="1071.50" y2="646.80" stroke="#000" stroke-width="2.0" />
<line x1="652.00" y1="1058.50" x2="652.00" y2="1054.50" stroke="#000" stroke-width="2.0" />
<line x1="652.00" y1="638.80" x2="652.00" y2="642.80" stroke="#000" stroke-width="2.0" />
<line x1="678.22" y1="1058.50" x2="678.22" y2="1054.50" stroke="#000" stroke-width="2.0" />
<line x1="678.22" y1="638.80" x2="678.22" y2="642.80" stroke="#000" stroke-width="2.0" />
<line x1="704.44" y1="1058.50" x2="704.44" y2="1054.50" stroke="#000" stroke-width="2.0" />
<line x1="704.44" y1="638.80" x2="704.44" y2="642.80" stroke="#000" stroke-width="2.0" />
<line x1="730.66" y1="1058.50" x2="730.66" y2="1054.50" stroke="#000" stroke-width="2.0" />
<line x1="730.66" y1="638.80" x2="730.66" y2="642.80" stroke="#000" stroke-width="2.0" />
<line x1="756.88" y1="1058.50" x2="756.88" y2="1054.50" stroke="#000" stroke-width="2.0" />
<line x1="756.88" y1="638.80" x2="756.88" y2="642.80" stroke="#000" stroke-width="2.0" />
<line x1="783.09" y1="1058.50" x2="783.09" y2="1054.50" stroke="#000" stroke-width="2.0" />
<line x1="783.09" y1="638.80" x2="783.09" y2="642.80" stroke="#000" stroke-width="2.0" />
<line x1="809.31" y1="1058.50" x2="809.31" y2="1054.50" stroke="#000" stroke-width="2.0" />
<line x1="809.31" y1="638.80" x2="809.31" y2="642.80" stroke="#000" stroke-width="2.0" />
<line x1="835.53" y1="1058.50" x2="835.53" y2="1054.50" stroke="#000" stroke-width="2.0" />
<line x1="835.53" y1="638.80" x2="835.53" y2="642.80" stroke="#000" stroke-width="2.0" />
<line x1="861.75" y1="1058.50" x2="861.75" y2="1054.50" stroke="#000" stroke-width="2.0" />
<line x1="861.75" y1="638.80" x2="861.75" y2="642.80" stroke="#000" stroke-width="2.0" />
<line x1="887.97" y1="1058.50" x2="887.97" y2="1054.50" stroke="#000" stroke-width="2.0" />
<line x1="887.97" y1="638.80" x2="887.97" y2="642.80" stroke="#000" stroke-width="2.0" />
<line x1="914.19" y1="1058.50" x2="914.19" y2="1054.50" stroke="#000" stroke-width="2.0" />
<line x1="914.19" y1="638.80" x2="914.19" y2="642.80" stroke="#000" stroke-width="2.0" />
<line x1="940.41" y1="1058.50" x2="940.41" y2="1054.50" stroke="#000" stroke-width="2.0" />
<line x1="940.41" y1="638.80" x2="940.41" y2="642.80" stroke="#000" stroke-width="2.0" />
<line x1="966.62" y1="1058.50" x2="966.62" y2="1054.50" stroke="#000" stroke-width="2.0" />
<line x1="966.62" y1="638.80" x2="966.62" y2="642.80" stroke="#000" stroke-width="2.0" />
<line x1="992.84" y1="1058.50" x2="992.84" y2="1054.50" stroke="#000" stroke-width="2.0" />
<line x1="992.84" y1="638.80" x2="992.84" y2="642.80" stroke="#000" stroke-width="2.0" />
<line x1="1019.06" y1="1058.50" x2="1019.06" y2="1054.50" stroke="#000" stroke-width="2.0" />
<line x1="1019.06" y1="638.80" x2="1019.06" y2="642.80" stroke="#000" stroke-width="2.0" />
<line x1="1045.28" y1="1058.50" x2="1045.28" y2="1054.50" stroke="#000" stroke-width="2.0" />
<line x1="1045.28" y1="638.80" x2="1045.28" y2="642.80" stroke="#000" stroke-width="2.0" />
<line x1="1071.50" y1="1058.50" x2="1071.50" y2="1054.50" stroke="#000" stroke-width="2.0" />
<line x1="1071.50" y1="638.80" x2="1071.50" y2="642.80" stroke="#000" stroke-width="2.0" />
<line x1="652.00" y1="1058.50" x2="660.00" y2="1058.50" stroke="#000" stroke-width="2.0" />
<line x1="1071.50" y1="1058.50" x2="1063.50" y2="1058.50" stroke="#000" stroke-width="2.0" />
<line x1="652.00" y1="953.58" x2="660.00" y2="953.58" stroke="#000" stroke-width="2.0" />
<line x1="1071.50" y1="953.58" x2="1063.50" y2="953.58" stroke="#000" stroke-width="2.0" />
<line x1="652.00" y1="848.65" x2="660.00" y2="848.65" stroke="#000" stroke-width="2.0" />
<line x1="1071.50" y1="848.65" x2="1063.50" y2="848.65" stroke="#000" stroke-width="2.0" />
<line x1="652.00" y1="743.72" x2="660.00" y2="743.72" stroke="#000" stroke-width="2.0" />
<line x1="1071.50" y1="743.72" x2="1063.50" y2="743.72" stroke="#000" stroke-width="2.0" />
<line x1="652.00" y1="638.80" x2="660.00" y2="638.80" stroke="#000" stroke-width="2.0" />
<line x1="1071.50" y1="638.80" x2="1063.50" y2="638.80" stroke="#000" stroke-width="2.0" />
<line x1="652.00" y1="1058.50" x2="656.00" y2="1058.50" stroke="#000" stroke-width="2.0" />
<line x1="1071.50" y1="1058.50" x2="1067.50" y2="1058.50" stroke="#000" stroke-width="2.0" />
<line x1="652.00" y1="1032.27" x2="656.00" y2="1032.27" stroke="#000" stroke-width="2.0" />
<line x1="1071.50" y1="1032.27" x2="1067.50" y2="1032.27" stroke="#000" stroke-width="2.0" />
<line x1="652.00" y1="1006.04" x2="656.00" y2="1006.04" stroke="#000" stroke-width="2.0" />
<line x1="1071.50" y1="1006.04" x2="1067.50" y2="1006.04" stroke="#000" stroke-width="2.0" />
<line x1="652.00" y1="979.81" x2="656.00" y2="979.81" stroke="#000" stroke-width="2.0" />
<line x1="1071.50" y1="979.81" x2="1067.50" y2="979.81" stroke="#000" stroke-width="2.0" />
<line x1="652.00" y1="953.58" x2="656.00" y2="953.58" stroke="#000" stroke-width="2.0" />
<line x1="1071.50" y1="953.58" x2="1067.50" y2="953.58" stroke="#000" stroke-width="2.0" />
<line x1="652.00" y1="927.34" x2="656.00" y2="927.34" stroke="#000" stroke-width="2.0" />
<line x1="1071.50" y1="927.34" x2="1067.50" y2="927.34" stroke="#000" stroke-width="2.0" />
<line x1="652.00" y1="901.11" x2="656.00" y2="901.11" stroke="#000" stroke-width="2.0" />
<line x1="1071.50" y1="901.11" x2="1067.50" y2="901.11" stroke="#000" stroke-width="2.0" />
<line x1="652.00" y1="874.88" x2="656.00" y2="874.88" stroke="#000" stroke-width="2.0" />
<line x1="1071.50" y1="874.88" x2="1067.50" y2="874.88" stroke="#000" stroke-width="2.0" />
<line x1="652.00" y1="848.65" x2="656.00" y2="848.65" stroke="#000" stroke-width="2.0" />
<line x1="1071.50" y1="848.65" x2="1067.50" y2="848.65" stroke="#000" stroke-width="2.0" />
<line x1="652.00" y1="822.42" x2="656.00" y2="822.42" stroke="#000" stroke-width="2.0" />
<line x1="1071.50" y1="822.42" x2="1067.50" y2="822.42" stroke="#000" stroke-width="2.0" />
<line x1="652.00" y1="796.19" x2="656.00" y2="796.19" stroke="#000" stroke-width="2.0" />
<line x1="1071.50" y1="796.19" x2="1067.50" y2="796.19" stroke="#000" stroke-width="2.0" />
<line x1="652.00" y1="769.96" x2="656.00" y2="769.96" stroke="#000" stroke-width="2.0" />
<line x1="1071.50" y1="769.96" x2="1067.50" y2="769.96" stroke="#000" stroke-width="2.0" />
<line x1="652.00" y1="743.72" x2="656.00" y2="743.72" stroke="#000" stroke-width="2.0" />
<line x1="1071.50" y1="743.72" x2="1067.50" y2="743.72" stroke="#000" stroke-width="2.0" />
<line x1="652.00" y1="717.49" x2="656.00" y2="717.49" stroke="#000" stroke-width="2.0" />
<line x1="1071.50" y1="717.49" x2="1067.50" y2="717.49" stroke="#000" stroke-width="2.0" />
<line x1="652.00" y1="691.26" x2="656.00" y2="691.26" stroke="#000" stroke-width="2.0" />
<line x1="1071.50" y1="691.26" x2="1067.50" y2="691.26" stroke="#000" stroke-width="2.0" />
<line x1="652.00" y1="665.03" x2="656.00" y2="665.03" stroke="#000" stroke-width="2.0" />
<line x1="1071.50" y1="665.03" x2="1067.50" y2="665.03" stroke="#000" stroke-width="2.0" />
<line x1="652.00" y1="638.80" x2="656.00" y2="638.80" stroke="#000" stroke-width="2.0" />
<line x1="1071.50" y1="638.80" x2="1067.50" y2="638.80" stroke="#000" stroke-width="2.0" />
<text transform="translate(652.00,1094.20) scale(0.785,1)" text-anchor="middle" font-size="29" font-weight="bold" fill="#000">-4</text>
<text transform="translate(756.88,1094.20) scale(0.785,1)" text-anchor="middle" font-size="29" font-weight="bold" fill="#000">-2</text>
<text transform="translate(861.75,1094.20) scale(0.785,1)" text-anchor="middle" font-size="29" font-weight="bold" fill="#000">0</text>
<text transform="translate(966.62,1094.20) scale(0.785,1)" text-anchor="middle" font-size="29" font-weight="bold" fill="#000">2</text>
<text transform="translate(1071.50,1094.20) scale(0.785,1)" text-anchor="middle" font-size="29" font-weight="bold" fill="#000">4</text>
<text transform="translate(645.00,1058.80) scale(0.785,1)" text-anchor="end" font-size="29" font-weight="bold" fill="#000">-4</text>
<text transform="translate(645.00,963.68) scale(0.785,1)" text-anchor="end" font-size="29" font-weight="bold" fill="#000">-2</text>
<text transform="translate(645.00,858.75) scale(0.785,1)" text-anchor="end" font-size="29" font-weight="bold" fill="#000">0</text>
<text transform="translate(645.00,753.82) scale(0.785,1)" text-anchor="end" font-size="29" font-weight="bold" fill="#000">2</text>
<text transform="translate(645.00,655.10) scale(0.785,1)" text-anchor="end" font-size="29" font-weight="bold" fill="#000">4</text>
<use href="#ast" x="855.8" y="827.0"/>
<use href="#ast" x="859.9" y="829.7"/>
<use href="#ast" x="867.5" y="829.0"/>
<use href="#ast" x="874.8" y="834.4"/>
<use href="#ast" x="876.6" y="831.3"/>
<use href="#ast" x="874.0" y="832.1"/>
<use href="#ast" x="869.5" y="843.7"/>
<use href="#ast" x="868.5" y="857.1"/>
<use href="#ast" x="873.6" y="872.9"/>
<use href="#ast" x="877.7" y="874.7"/>
<use href="#ast" x="879.6" y="885.7"/>
<use href="#ast" x="877.8" y="891.6"/>
<use href="#ast" x="875.1" y="912.4"/>
<use href="#ast" x="869.6" y="915.7"/>
<use href="#ast" x="864.1" y="914.6"/>
<use href="#ast" x="863.9" y="906.3"/>
<use href="#ast" x="866.3" y="899.1"/>
<use href="#ast" x="870.4" y="900.5"/>
<use href="#ast" x="874.3" y="901.1"/>
<use href="#ast" x="873.0" y="892.8"/>
<use href="#ast" x="870.6" y="884.7"/>
<use href="#ast" x="865.6" y="881.3"/>
<use href="#ast" x="862.3" y="886.1"/>
<use href="#ast" x="860.7" y="888.2"/>
<use href="#ast" x="863.4" y="903.1"/>
<use href="#ast" x="867.8" y="916.6"/>
<use href="#ast" x="870.6" y="921.1"/>
<use href="#ast" x="871.7" y="930.8"/>
<use href="#ast" x="867.6" y="931.8"/>
<use href="#ast" x="863.6" y="936.3"/>
<use href="#ast" x="859.6" y="934.5"/>
<use href="#ast" x="857.7" y="938.1"/>
<use href="#ast" x="861.1" y="941.4"/>
<use href="#ast" x="864.6" y="944.6"/>
<use href="#ast" x="868.4" y="946.8"/>
<use href="#ast" x="869.4" y="940.4"/>
<use href="#ast" x="865.6" y="929.4"/>
<use href="#ast" x="861.6" y="918.9"/>
<use href="#ast" x="857.4" y="915.5"/>
<use href="#ast" x="855.2" y="919.4"/>
<use href="#ast" x="857.0" y="927.5"/>
<use href="#ast" x="861.8" y="915.2"/>
<use href="#ast" x="865.4" y="912.4"/>
<use href="#ast" x="862.5" y="911.7"/>
<use href="#ast" x="858.1" y="917.6"/>
<use href="#ast" x="854.4" y="929.0"/>
<use href="#ast" x="855.4" y="930.6"/>
<use href="#ast" x="861.2" y="940.2"/>
<use href="#ast" x="870.4" y="950.1"/>
<use href="#ast" x="873.4" y="952.5"/>
<use href="#ast" x="869.7" y="940.0"/>
<use href="#ast" x="862.5" y="922.1"/>
<use href="#ast" x="855.4" y="904.2"/>
<use href="#ast" x="857.6" y="899.7"/>
<use href="#ast" x="860.4" y="901.0"/>
<use href="#ast" x="864.7" y="910.7"/>
<use href="#ast" x="866.6" y="908.2"/>
<use href="#ast" x="865.0" y="904.3"/>
<use href="#ast" x="863.3" y="899.6"/>
<use href="#ast" x="864.6" y="894.3"/>
<use href="#ast" x="866.3" y="899.9"/>
<use href="#ast" x="852.2" y="940.1"/>
<use href="#ast" x="860.1" y="952.6"/>
<use href="#ast" x="866.6" y="990.2"/>
<use href="#ast" x="863.4" y="1006.0"/>
<use href="#ast" x="857.4" y="1008.6"/>
<use href="#ast" x="851.5" y="1006.4"/>
<use href="#ast" x="847.4" y="998.2"/>
<use href="#ast" x="850.2" y="1002.2"/>
<use href="#ast" x="853.0" y="1002.3"/>
<use href="#ast" x="853.8" y="995.3"/>
<use href="#ast" x="849.9" y="998.5"/>
<use href="#ast" x="845.7" y="1005.5"/>
<use href="#ast" x="841.2" y="1014.0"/>
<use href="#ast" x="843.8" y="1019.5"/>
<use href="#ast" x="846.3" y="1035.4"/>
<use href="#ast" x="849.9" y="1031.9"/>
<use href="#ast" x="854.4" y="1033.6"/>
<use href="#ast" x="851.8" y="1022.1"/>
<use href="#ast" x="849.3" y="1012.2"/>
<use href="#ast" x="846.3" y="1001.7"/>
<use href="#ast" x="843.2" y="987.4"/>
<use href="#ast" x="841.0" y="983.4"/>
<use href="#ast" x="843.5" y="991.8"/>
<use href="#ast" x="846.5" y="981.0"/>
<use href="#ast" x="850.2" y="978.8"/>
<use href="#ast" x="849.7" y="973.2"/>
<use href="#ast" x="847.7" y="958.2"/>
<use href="#ast" x="845.0" y="947.5"/>
<use href="#ast" x="841.9" y="938.6"/>
<use href="#ast" x="839.2" y="926.9"/>
<use href="#ast" x="841.8" y="924.7"/>
<use href="#ast" x="844.6" y="920.4"/>
<use href="#ast" x="848.7" y="916.4"/>
<use href="#ast" x="848.5" y="927.9"/>
<use href="#ast" x="845.9" y="932.8"/>
<use href="#ast" x="843.0" y="924.5"/>
<use href="#ast" x="839.2" y="911.4"/>
<use href="#ast" x="866.6" y="814.3"/>
<use href="#ast" x="866.6" y="818.0"/>
<use href="#ast" x="862.6" y="822.0"/>
<use href="#ast" x="867.0" y="829.3"/>
<line x1="836.00" y1="1038.10" x2="880.30" y2="818.60" stroke="#000" stroke-width="2.0" />
<text transform="translate(861.75,610.40) scale(0.785,1)" text-anchor="middle" font-size="29" font-weight="bold" fill="#000">correlation 0.560</text>
<text transform="translate(861.75,1123.50) scale(0.785,1)" text-anchor="middle" font-size="29" font-weight="bold" fill="#000">IPS Tomography B<tspan font-size="19" dy="5">z</tspan><tspan dy="-5"> (nT)</tspan></text>
<text transform="translate(602.80,849.65) rotate(-90) scale(0.785,1)" text-anchor="middle" font-size="29" font-weight="bold" fill="#000">ACE B<tspan font-size="19" dy="5">z</tspan><tspan dy="-5"> (nT)</tspan></text>
<polyline points="1246.0,930.5 1253.9,920.6 1258.0,913.0 1266.9,895.6 1274.3,889.4 1281.1,896.2 1286.0,906.7 1289.1,914.8 1293.5,921.7 1304.6,926.1 1309.5,934.1 1317.0,939.7 1324.4,928.5 1333.0,919.9 1338.0,922.4 1344.2,926.1 1350.3,919.9 1354.0,921.7 1362.7,937.2 1373.8,957.0 1380.0,975.5 1383.1,983.6 1388.7,963.2 1396.1,944.6 1401.0,933.5 1406.2,928.5 1411.2,922.4 1413.0,897.5 1416.1,859.1 1421.6,849.2 1427.2,856.0 1438.3,847.4 1442.0,851.7 1449.5,854.2 1453.2,866.6 1456.9,886.3 1460.0,906.1 1464.3,917.3 1469.2,902.4 1475.4,872.7 1479.1,865.3 1485.3,869.0 1488.4,876.4 1491.5,897.5 1495.2,909.8 1505.1,932.3 1515.0,949.6 1519.9,949.0 1532.3,939.7 1538.5,928.5 1551.1,910.0 1555.4,903.0 1558.5,895.6 1564.4,885.0 1570.7,886.8 1576.0,888.2 1581.9,887.6" fill="none" stroke="#FFA500" stroke-width="2.6" stroke-linejoin="round" stroke-linecap="butt" stroke-dasharray="12 7"/>
<polyline points="1246.0,976.3 1248.5,962.2 1251.6,976.3 1254.3,905.6 1257.5,1004.6 1260.1,1004.6 1262.8,990.5 1268.1,919.7 1273.8,948.0 1276.5,905.6 1279.8,948.0 1282.4,948.0 1287.9,919.7 1290.0,877.3 1295.9,948.0 1298.4,891.4 1300.9,905.6 1304.0,834.8 1307.1,863.1 1309.8,919.7 1312.0,919.7 1314.5,962.2 1318.2,962.2 1320.7,919.7 1326.2,948.0 1328.7,1004.6 1332.4,1032.9 1335.5,1047.1 1339.8,1018.8 1342.3,1032.9 1347.9,976.3 1352.8,905.6 1359.0,848.9 1362.1,933.9 1364.6,933.9 1367.0,1018.8 1370.1,1032.9 1372.6,976.3 1378.2,1032.9 1383.1,962.2 1386.2,948.0 1389.3,1032.9 1400.4,1032.9 1402.8,1047.1 1408.0,1018.8 1411.1,1018.8 1413.6,962.2 1416.7,948.0 1419.2,863.1 1422.0,905.6 1424.7,891.4 1430.3,1018.8 1433.4,1018.8 1438.3,919.7 1442.0,905.6 1443.9,905.6 1445.7,948.0 1449.5,962.2 1452.6,990.5 1457.5,919.7 1460.6,976.3 1463.7,962.2 1466.2,919.7 1469.2,905.6 1471.5,933.9 1474.2,848.9 1477.3,905.6 1479.1,806.3 1482.2,792.3 1487.5,919.7 1490.9,919.7 1493.4,933.9 1495.8,863.1 1498.9,834.8 1501.4,834.8 1507.0,919.7 1510.0,863.1 1513.1,891.4 1518.1,990.5 1526.1,863.1 1529.2,905.6 1532.9,919.7 1534.8,962.2 1537.3,962.2 1540.3,1032.9 1545.9,933.9 1548.4,962.2 1551.1,976.3 1553.9,962.2 1556.4,1018.8 1559.5,1018.8" fill="none" stroke="#000" stroke-width="2.5" stroke-linejoin="miter" stroke-linecap="butt"/>
<line x1="1559.60" y1="622.50" x2="1559.60" y2="1047.10" stroke="#000" stroke-width="1.5" stroke-dasharray="11.2 5.8" stroke-dashoffset="11.4"/>
<rect x="1246.00" y="622.50" width="423.00" height="424.60" fill="none" stroke="#000" stroke-width="2.7"/>
<line x1="1331.20" y1="1047.10" x2="1331.20" y2="1035.10" stroke="#000" stroke-width="2.6" />
<line x1="1331.20" y1="622.50" x2="1331.20" y2="634.50" stroke="#000" stroke-width="2.6" />
<line x1="1419.23" y1="1047.10" x2="1419.23" y2="1035.10" stroke="#000" stroke-width="2.6" />
<line x1="1419.23" y1="622.50" x2="1419.23" y2="634.50" stroke="#000" stroke-width="2.6" />
<line x1="1507.27" y1="1047.10" x2="1507.27" y2="1035.10" stroke="#000" stroke-width="2.6" />
<line x1="1507.27" y1="622.50" x2="1507.27" y2="634.50" stroke="#000" stroke-width="2.6" />
<line x1="1595.30" y1="1047.10" x2="1595.30" y2="1035.10" stroke="#000" stroke-width="2.6" />
<line x1="1595.30" y1="622.50" x2="1595.30" y2="634.50" stroke="#000" stroke-width="2.6" />
<line x1="1265.18" y1="1047.10" x2="1265.18" y2="1042.10" stroke="#000" stroke-width="2.6" />
<line x1="1265.18" y1="622.50" x2="1265.18" y2="627.50" stroke="#000" stroke-width="2.6" />
<line x1="1287.18" y1="1047.10" x2="1287.18" y2="1042.10" stroke="#000" stroke-width="2.6" />
<line x1="1287.18" y1="622.50" x2="1287.18" y2="627.50" stroke="#000" stroke-width="2.6" />
<line x1="1309.19" y1="1047.10" x2="1309.19" y2="1042.10" stroke="#000" stroke-width="2.6" />
<line x1="1309.19" y1="622.50" x2="1309.19" y2="627.50" stroke="#000" stroke-width="2.6" />
<line x1="1353.21" y1="1047.10" x2="1353.21" y2="1042.10" stroke="#000" stroke-width="2.6" />
<line x1="1353.21" y1="622.50" x2="1353.21" y2="627.50" stroke="#000" stroke-width="2.6" />
<line x1="1375.22" y1="1047.10" x2="1375.22" y2="1042.10" stroke="#000" stroke-width="2.6" />
<line x1="1375.22" y1="622.50" x2="1375.22" y2="627.50" stroke="#000" stroke-width="2.6" />
<line x1="1397.22" y1="1047.10" x2="1397.22" y2="1042.10" stroke="#000" stroke-width="2.6" />
<line x1="1397.22" y1="622.50" x2="1397.22" y2="627.50" stroke="#000" stroke-width="2.6" />
<line x1="1441.24" y1="1047.10" x2="1441.24" y2="1042.10" stroke="#000" stroke-width="2.6" />
<line x1="1441.24" y1="622.50" x2="1441.24" y2="627.50" stroke="#000" stroke-width="2.6" />
<line x1="1463.25" y1="1047.10" x2="1463.25" y2="1042.10" stroke="#000" stroke-width="2.6" />
<line x1="1463.25" y1="622.50" x2="1463.25" y2="627.50" stroke="#000" stroke-width="2.6" />
<line x1="1485.26" y1="1047.10" x2="1485.26" y2="1042.10" stroke="#000" stroke-width="2.6" />
<line x1="1485.26" y1="622.50" x2="1485.26" y2="627.50" stroke="#000" stroke-width="2.6" />
<line x1="1529.28" y1="1047.10" x2="1529.28" y2="1042.10" stroke="#000" stroke-width="2.6" />
<line x1="1529.28" y1="622.50" x2="1529.28" y2="627.50" stroke="#000" stroke-width="2.6" />
<line x1="1551.28" y1="1047.10" x2="1551.28" y2="1042.10" stroke="#000" stroke-width="2.6" />
<line x1="1551.28" y1="622.50" x2="1551.28" y2="627.50" stroke="#000" stroke-width="2.6" />
<line x1="1573.29" y1="1047.10" x2="1573.29" y2="1042.10" stroke="#000" stroke-width="2.6" />
<line x1="1573.29" y1="622.50" x2="1573.29" y2="627.50" stroke="#000" stroke-width="2.6" />
<line x1="1617.31" y1="1047.10" x2="1617.31" y2="1042.10" stroke="#000" stroke-width="2.6" />
<line x1="1617.31" y1="622.50" x2="1617.31" y2="627.50" stroke="#000" stroke-width="2.6" />
<line x1="1639.32" y1="1047.10" x2="1639.32" y2="1042.10" stroke="#000" stroke-width="2.6" />
<line x1="1639.32" y1="622.50" x2="1639.32" y2="627.50" stroke="#000" stroke-width="2.6" />
<line x1="1661.32" y1="1047.10" x2="1661.32" y2="1042.10" stroke="#000" stroke-width="2.6" />
<line x1="1661.32" y1="622.50" x2="1661.32" y2="627.50" stroke="#000" stroke-width="2.6" />
<line x1="1246.00" y1="1047.10" x2="1258.00" y2="1047.10" stroke="#000" stroke-width="2.6" />
<line x1="1669.00" y1="1047.10" x2="1657.00" y2="1047.10" stroke="#000" stroke-width="2.6" />
<line x1="1246.00" y1="962.18" x2="1258.00" y2="962.18" stroke="#000" stroke-width="2.6" />
<line x1="1669.00" y1="962.18" x2="1657.00" y2="962.18" stroke="#000" stroke-width="2.6" />
<line x1="1246.00" y1="877.26" x2="1258.00" y2="877.26" stroke="#000" stroke-width="2.6" />
<line x1="1669.00" y1="877.26" x2="1657.00" y2="877.26" stroke="#000" stroke-width="2.6" />
<line x1="1246.00" y1="792.34" x2="1258.00" y2="792.34" stroke="#000" stroke-width="2.6" />
<line x1="1669.00" y1="792.34" x2="1657.00" y2="792.34" stroke="#000" stroke-width="2.6" />
<line x1="1246.00" y1="707.42" x2="1258.00" y2="707.42" stroke="#000" stroke-width="2.6" />
<line x1="1669.00" y1="707.42" x2="1657.00" y2="707.42" stroke="#000" stroke-width="2.6" />
<line x1="1246.00" y1="622.50" x2="1258.00" y2="622.50" stroke="#000" stroke-width="2.6" />
<line x1="1669.00" y1="622.50" x2="1657.00" y2="622.50" stroke="#000" stroke-width="2.6" />
<line x1="1246.00" y1="1025.87" x2="1251.00" y2="1025.87" stroke="#000" stroke-width="2.6" />
<line x1="1669.00" y1="1025.87" x2="1664.00" y2="1025.87" stroke="#000" stroke-width="2.6" />
<line x1="1246.00" y1="1004.64" x2="1251.00" y2="1004.64" stroke="#000" stroke-width="2.6" />
<line x1="1669.00" y1="1004.64" x2="1664.00" y2="1004.64" stroke="#000" stroke-width="2.6" />
<line x1="1246.00" y1="983.41" x2="1251.00" y2="983.41" stroke="#000" stroke-width="2.6" />
<line x1="1669.00" y1="983.41" x2="1664.00" y2="983.41" stroke="#000" stroke-width="2.6" />
<line x1="1246.00" y1="940.95" x2="1251.00" y2="940.95" stroke="#000" stroke-width="2.6" />
<line x1="1669.00" y1="940.95" x2="1664.00" y2="940.95" stroke="#000" stroke-width="2.6" />
<line x1="1246.00" y1="919.72" x2="1251.00" y2="919.72" stroke="#000" stroke-width="2.6" />
<line x1="1669.00" y1="919.72" x2="1664.00" y2="919.72" stroke="#000" stroke-width="2.6" />
<line x1="1246.00" y1="898.49" x2="1251.00" y2="898.49" stroke="#000" stroke-width="2.6" />
<line x1="1669.00" y1="898.49" x2="1664.00" y2="898.49" stroke="#000" stroke-width="2.6" />
<line x1="1246.00" y1="856.03" x2="1251.00" y2="856.03" stroke="#000" stroke-width="2.6" />
<line x1="1669.00" y1="856.03" x2="1664.00" y2="856.03" stroke="#000" stroke-width="2.6" />
<line x1="1246.00" y1="834.80" x2="1251.00" y2="834.80" stroke="#000" stroke-width="2.6" />
<line x1="1669.00" y1="834.80" x2="1664.00" y2="834.80" stroke="#000" stroke-width="2.6" />
<line x1="1246.00" y1="813.57" x2="1251.00" y2="813.57" stroke="#000" stroke-width="2.6" />
<line x1="1669.00" y1="813.57" x2="1664.00" y2="813.57" stroke="#000" stroke-width="2.6" />
<line x1="1246.00" y1="771.11" x2="1251.00" y2="771.11" stroke="#000" stroke-width="2.6" />
<line x1="1669.00" y1="771.11" x2="1664.00" y2="771.11" stroke="#000" stroke-width="2.6" />
<line x1="1246.00" y1="749.88" x2="1251.00" y2="749.88" stroke="#000" stroke-width="2.6" />
<line x1="1669.00" y1="749.88" x2="1664.00" y2="749.88" stroke="#000" stroke-width="2.6" />
<line x1="1246.00" y1="728.65" x2="1251.00" y2="728.65" stroke="#000" stroke-width="2.6" />
<line x1="1669.00" y1="728.65" x2="1664.00" y2="728.65" stroke="#000" stroke-width="2.6" />
<line x1="1246.00" y1="686.19" x2="1251.00" y2="686.19" stroke="#000" stroke-width="2.6" />
<line x1="1669.00" y1="686.19" x2="1664.00" y2="686.19" stroke="#000" stroke-width="2.6" />
<line x1="1246.00" y1="664.96" x2="1251.00" y2="664.96" stroke="#000" stroke-width="2.6" />
<line x1="1669.00" y1="664.96" x2="1664.00" y2="664.96" stroke="#000" stroke-width="2.6" />
<line x1="1246.00" y1="643.73" x2="1251.00" y2="643.73" stroke="#000" stroke-width="2.6" />
<line x1="1669.00" y1="643.73" x2="1664.00" y2="643.73" stroke="#000" stroke-width="2.6" />
<text transform="translate(1331.20,1088.00) scale(0.87,1)" text-anchor="middle" font-size="26.5" font-weight="bold" fill="#000">01/04</text>
<text transform="translate(1419.23,1088.00) scale(0.87,1)" text-anchor="middle" font-size="26.5" font-weight="bold" fill="#000">01/08</text>
<text transform="translate(1507.27,1088.00) scale(0.87,1)" text-anchor="middle" font-size="26.5" font-weight="bold" fill="#000">01/12</text>
<text transform="translate(1595.30,1088.00) scale(0.87,1)" text-anchor="middle" font-size="26.5" font-weight="bold" fill="#000">01/16</text>
<text transform="translate(1236.00,1056.30) scale(0.87,1)" text-anchor="end" font-size="26" font-weight="bold" fill="#000">0</text>
<text transform="translate(1236.00,971.38) scale(0.87,1)" text-anchor="end" font-size="26" font-weight="bold" fill="#000">2</text>
<text transform="translate(1236.00,886.46) scale(0.87,1)" text-anchor="end" font-size="26" font-weight="bold" fill="#000">4</text>
<text transform="translate(1236.00,801.54) scale(0.87,1)" text-anchor="end" font-size="26" font-weight="bold" fill="#000">6</text>
<text transform="translate(1236.00,716.62) scale(0.87,1)" text-anchor="end" font-size="26" font-weight="bold" fill="#000">8</text>
<text transform="translate(1236.00,631.70) scale(0.87,1)" text-anchor="end" font-size="26" font-weight="bold" fill="#000">10</text>
<text transform="translate(1457.50,607.40) scale(0.88,1)" text-anchor="middle" font-size="26.5" font-weight="bold" fill="#000">2026/01/14 09 UT</text>
<text transform="translate(1457.50,1123.30) scale(0.885,1)" text-anchor="middle" font-size="26" font-weight="bold" fill="#000">start time 2025/12/31 03 UT</text>
<line x1="1267.30" y1="653.30" x2="1318.00" y2="653.30" stroke="#000" stroke-width="2.6" />
<line x1="1268.10" y1="688.10" x2="1318.00" y2="688.10" stroke="#FFA500" stroke-width="2.6" stroke-dasharray="12.6 7.7"/>
<text transform="translate(1335.00,661.80) scale(0.821,1)" text-anchor="start" font-size="24.2" font-weight="bold" fill="#000">GFZ Planetary K-Index</text>
<text transform="translate(1335.40,696.40) scale(0.821,1)" text-anchor="start" font-size="24.2" font-weight="bold" fill="#000">IPS Planetary K-Index</text>
<use href="#xm" x="1897.3" y="863.8"/>
<use href="#xm" x="1902.3" y="863.8"/>
<use href="#xm" x="1915.3" y="863.8"/>
<use href="#xm" x="1911.8" y="878.0"/>
<use href="#xm" x="1919.8" y="878.0"/>
<use href="#xm" x="1923.6" y="878.0"/>
<use href="#xm" x="1920.3" y="906.3"/>
<use href="#xm" x="1976.8" y="906.3"/>
<use href="#xm" x="1989.2" y="906.3"/>
<use href="#xm" x="1994.2" y="906.3"/>
<use href="#xm" x="1901.1" y="920.5"/>
<use href="#xm" x="1904.8" y="920.5"/>
<use href="#xm" x="1923.1" y="920.5"/>
<use href="#xm" x="1930.3" y="920.5"/>
<use href="#xm" x="1947.8" y="920.5"/>
<use href="#xm" x="1969.0" y="920.5"/>
<use href="#xm" x="1995.5" y="920.5"/>
<use href="#xm" x="1893.6" y="934.6"/>
<use href="#xm" x="1909.3" y="934.6"/>
<use href="#xm" x="1913.6" y="934.6"/>
<use href="#xm" x="1936.0" y="934.6"/>
<use href="#xm" x="1940.3" y="934.6"/>
<use href="#xm" x="1954.8" y="934.6"/>
<use href="#xm" x="1921.8" y="948.8"/>
<use href="#xm" x="1952.3" y="948.8"/>
<use href="#xm" x="1953.8" y="948.8"/>
<use href="#xm" x="1971.8" y="948.8"/>
<use href="#xm" x="1983.5" y="948.8"/>
<use href="#xm" x="1859.4" y="962.9"/>
<use href="#xm" x="1897.3" y="962.9"/>
<use href="#xm" x="1903.6" y="962.9"/>
<use href="#xm" x="1912.8" y="962.9"/>
<use href="#xm" x="1926.8" y="962.9"/>
<use href="#xm" x="1936.0" y="962.9"/>
<use href="#xm" x="1986.0" y="962.9"/>
<use href="#xm" x="1887.8" y="977.1"/>
<use href="#xm" x="1919.1" y="977.1"/>
<use href="#xm" x="1933.5" y="977.1"/>
<use href="#xm" x="1912.3" y="991.3"/>
<use href="#xm" x="1921.1" y="991.3"/>
<use href="#xm" x="1938.0" y="991.3"/>
<use href="#xm" x="1916.8" y="1005.4"/>
<use href="#xm" x="1921.1" y="1005.4"/>
<use href="#xm" x="1922.6" y="1005.4"/>
<use href="#xm" x="1928.0" y="1005.4"/>
<use href="#xm" x="1897.8" y="1019.6"/>
<use href="#xm" x="1918.6" y="1019.6"/>
<use href="#xm" x="1992.2" y="1019.6"/>
<use href="#xm" x="1871.1" y="1033.7"/>
<use href="#xm" x="1877.8" y="1033.7"/>
<use href="#xm" x="1896.6" y="1033.7"/>
<use href="#xm" x="1908.1" y="1033.7"/>
<use href="#xm" x="1914.3" y="1033.7"/>
<use href="#xm" x="1979.3" y="793.0"/>
<use href="#xm" x="1924.3" y="835.5"/>
<line x1="1837.90" y1="987.40" x2="1924.10" y2="951.90" stroke="#000" stroke-width="2.5" />
<rect x="1795.70" y="622.30" width="424.30" height="424.50" fill="none" stroke="#000" stroke-width="2.7"/>
<line x1="1795.70" y1="1046.80" x2="1795.70" y2="1034.80" stroke="#000" stroke-width="2.6" />
<line x1="1795.70" y1="622.30" x2="1795.70" y2="634.30" stroke="#000" stroke-width="2.6" />
<line x1="1880.56" y1="1046.80" x2="1880.56" y2="1034.80" stroke="#000" stroke-width="2.6" />
<line x1="1880.56" y1="622.30" x2="1880.56" y2="634.30" stroke="#000" stroke-width="2.6" />
<line x1="1965.42" y1="1046.80" x2="1965.42" y2="1034.80" stroke="#000" stroke-width="2.6" />
<line x1="1965.42" y1="622.30" x2="1965.42" y2="634.30" stroke="#000" stroke-width="2.6" />
<line x1="2050.28" y1="1046.80" x2="2050.28" y2="1034.80" stroke="#000" stroke-width="2.6" />
<line x1="2050.28" y1="622.30" x2="2050.28" y2="634.30" stroke="#000" stroke-width="2.6" />
<line x1="2135.14" y1="1046.80" x2="2135.14" y2="1034.80" stroke="#000" stroke-width="2.6" />
<line x1="2135.14" y1="622.30" x2="2135.14" y2="634.30" stroke="#000" stroke-width="2.6" />
<line x1="2220.00" y1="1046.80" x2="2220.00" y2="1034.80" stroke="#000" stroke-width="2.6" />
<line x1="2220.00" y1="622.30" x2="2220.00" y2="634.30" stroke="#000" stroke-width="2.6" />
<line x1="1816.91" y1="1046.80" x2="1816.91" y2="1041.80" stroke="#000" stroke-width="2.6" />
<line x1="1816.91" y1="622.30" x2="1816.91" y2="627.30" stroke="#000" stroke-width="2.6" />
<line x1="1838.13" y1="1046.80" x2="1838.13" y2="1041.80" stroke="#000" stroke-width="2.6" />
<line x1="1838.13" y1="622.30" x2="1838.13" y2="627.30" stroke="#000" stroke-width="2.6" />
<line x1="1859.35" y1="1046.80" x2="1859.35" y2="1041.80" stroke="#000" stroke-width="2.6" />
<line x1="1859.35" y1="622.30" x2="1859.35" y2="627.30" stroke="#000" stroke-width="2.6" />
<line x1="1901.78" y1="1046.80" x2="1901.78" y2="1041.80" stroke="#000" stroke-width="2.6" />
<line x1="1901.78" y1="622.30" x2="1901.78" y2="627.30" stroke="#000" stroke-width="2.6" />
<line x1="1922.99" y1="1046.80" x2="1922.99" y2="1041.80" stroke="#000" stroke-width="2.6" />
<line x1="1922.99" y1="622.30" x2="1922.99" y2="627.30" stroke="#000" stroke-width="2.6" />
<line x1="1944.20" y1="1046.80" x2="1944.20" y2="1041.80" stroke="#000" stroke-width="2.6" />
<line x1="1944.20" y1="622.30" x2="1944.20" y2="627.30" stroke="#000" stroke-width="2.6" />
<line x1="1986.63" y1="1046.80" x2="1986.63" y2="1041.80" stroke="#000" stroke-width="2.6" />
<line x1="1986.63" y1="622.30" x2="1986.63" y2="627.30" stroke="#000" stroke-width="2.6" />
<line x1="2007.85" y1="1046.80" x2="2007.85" y2="1041.80" stroke="#000" stroke-width="2.6" />
<line x1="2007.85" y1="622.30" x2="2007.85" y2="627.30" stroke="#000" stroke-width="2.6" />
<line x1="2029.07" y1="1046.80" x2="2029.07" y2="1041.80" stroke="#000" stroke-width="2.6" />
<line x1="2029.07" y1="622.30" x2="2029.07" y2="627.30" stroke="#000" stroke-width="2.6" />
<line x1="2071.49" y1="1046.80" x2="2071.49" y2="1041.80" stroke="#000" stroke-width="2.6" />
<line x1="2071.49" y1="622.30" x2="2071.49" y2="627.30" stroke="#000" stroke-width="2.6" />
<line x1="2092.71" y1="1046.80" x2="2092.71" y2="1041.80" stroke="#000" stroke-width="2.6" />
<line x1="2092.71" y1="622.30" x2="2092.71" y2="627.30" stroke="#000" stroke-width="2.6" />
<line x1="2113.93" y1="1046.80" x2="2113.93" y2="1041.80" stroke="#000" stroke-width="2.6" />
<line x1="2113.93" y1="622.30" x2="2113.93" y2="627.30" stroke="#000" stroke-width="2.6" />
<line x1="2156.36" y1="1046.80" x2="2156.36" y2="1041.80" stroke="#000" stroke-width="2.6" />
<line x1="2156.36" y1="622.30" x2="2156.36" y2="627.30" stroke="#000" stroke-width="2.6" />
<line x1="2177.57" y1="1046.80" x2="2177.57" y2="1041.80" stroke="#000" stroke-width="2.6" />
<line x1="2177.57" y1="622.30" x2="2177.57" y2="627.30" stroke="#000" stroke-width="2.6" />
<line x1="2198.78" y1="1046.80" x2="2198.78" y2="1041.80" stroke="#000" stroke-width="2.6" />
<line x1="2198.78" y1="622.30" x2="2198.78" y2="627.30" stroke="#000" stroke-width="2.6" />
<line x1="1795.70" y1="1046.80" x2="1807.70" y2="1046.80" stroke="#000" stroke-width="2.6" />
<line x1="2220.00" y1="1046.80" x2="2208.00" y2="1046.80" stroke="#000" stroke-width="2.6" />
<line x1="1795.70" y1="961.90" x2="1807.70" y2="961.90" stroke="#000" stroke-width="2.6" />
<line x1="2220.00" y1="961.90" x2="2208.00" y2="961.90" stroke="#000" stroke-width="2.6" />
<line x1="1795.70" y1="877.00" x2="1807.70" y2="877.00" stroke="#000" stroke-width="2.6" />
<line x1="2220.00" y1="877.00" x2="2208.00" y2="877.00" stroke="#000" stroke-width="2.6" />
<line x1="1795.70" y1="792.10" x2="1807.70" y2="792.10" stroke="#000" stroke-width="2.6" />
<line x1="2220.00" y1="792.10" x2="2208.00" y2="792.10" stroke="#000" stroke-width="2.6" />
<line x1="1795.70" y1="707.20" x2="1807.70" y2="707.20" stroke="#000" stroke-width="2.6" />
<line x1="2220.00" y1="707.20" x2="2208.00" y2="707.20" stroke="#000" stroke-width="2.6" />
<line x1="1795.70" y1="622.30" x2="1807.70" y2="622.30" stroke="#000" stroke-width="2.6" />
<line x1="2220.00" y1="622.30" x2="2208.00" y2="622.30" stroke="#000" stroke-width="2.6" />
<line x1="1795.70" y1="1025.58" x2="1800.70" y2="1025.58" stroke="#000" stroke-width="2.6" />
<line x1="2220.00" y1="1025.58" x2="2215.00" y2="1025.58" stroke="#000" stroke-width="2.6" />
<line x1="1795.70" y1="1004.35" x2="1800.70" y2="1004.35" stroke="#000" stroke-width="2.6" />
<line x1="2220.00" y1="1004.35" x2="2215.00" y2="1004.35" stroke="#000" stroke-width="2.6" />
<line x1="1795.70" y1="983.12" x2="1800.70" y2="983.12" stroke="#000" stroke-width="2.6" />
<line x1="2220.00" y1="983.12" x2="2215.00" y2="983.12" stroke="#000" stroke-width="2.6" />
<line x1="1795.70" y1="940.67" x2="1800.70" y2="940.67" stroke="#000" stroke-width="2.6" />
<line x1="2220.00" y1="940.67" x2="2215.00" y2="940.67" stroke="#000" stroke-width="2.6" />
<line x1="1795.70" y1="919.45" x2="1800.70" y2="919.45" stroke="#000" stroke-width="2.6" />
<line x1="2220.00" y1="919.45" x2="2215.00" y2="919.45" stroke="#000" stroke-width="2.6" />
<line x1="1795.70" y1="898.22" x2="1800.70" y2="898.22" stroke="#000" stroke-width="2.6" />
<line x1="2220.00" y1="898.22" x2="2215.00" y2="898.22" stroke="#000" stroke-width="2.6" />
<line x1="1795.70" y1="855.77" x2="1800.70" y2="855.77" stroke="#000" stroke-width="2.6" />
<line x1="2220.00" y1="855.77" x2="2215.00" y2="855.77" stroke="#000" stroke-width="2.6" />
<line x1="1795.70" y1="834.55" x2="1800.70" y2="834.55" stroke="#000" stroke-width="2.6" />
<line x1="2220.00" y1="834.55" x2="2215.00" y2="834.55" stroke="#000" stroke-width="2.6" />
<line x1="1795.70" y1="813.32" x2="1800.70" y2="813.32" stroke="#000" stroke-width="2.6" />
<line x1="2220.00" y1="813.32" x2="2215.00" y2="813.32" stroke="#000" stroke-width="2.6" />
<line x1="1795.70" y1="770.88" x2="1800.70" y2="770.88" stroke="#000" stroke-width="2.6" />
<line x1="2220.00" y1="770.88" x2="2215.00" y2="770.88" stroke="#000" stroke-width="2.6" />
<line x1="1795.70" y1="749.65" x2="1800.70" y2="749.65" stroke="#000" stroke-width="2.6" />
<line x1="2220.00" y1="749.65" x2="2215.00" y2="749.65" stroke="#000" stroke-width="2.6" />
<line x1="1795.70" y1="728.42" x2="1800.70" y2="728.42" stroke="#000" stroke-width="2.6" />
<line x1="2220.00" y1="728.42" x2="2215.00" y2="728.42" stroke="#000" stroke-width="2.6" />
<line x1="1795.70" y1="685.97" x2="1800.70" y2="685.97" stroke="#000" stroke-width="2.6" />
<line x1="2220.00" y1="685.97" x2="2215.00" y2="685.97" stroke="#000" stroke-width="2.6" />
<line x1="1795.70" y1="664.75" x2="1800.70" y2="664.75" stroke="#000" stroke-width="2.6" />
<line x1="2220.00" y1="664.75" x2="2215.00" y2="664.75" stroke="#000" stroke-width="2.6" />
<line x1="1795.70" y1="643.52" x2="1800.70" y2="643.52" stroke="#000" stroke-width="2.6" />
<line x1="2220.00" y1="643.52" x2="2215.00" y2="643.52" stroke="#000" stroke-width="2.6" />
<text transform="translate(1795.70,1088.00) scale(0.87,1)" text-anchor="middle" font-size="26.5" font-weight="bold" fill="#000">0</text>
<text transform="translate(1786.20,1056.00) scale(0.87,1)" text-anchor="end" font-size="26" font-weight="bold" fill="#000">0</text>
<text transform="translate(1880.56,1088.00) scale(0.87,1)" text-anchor="middle" font-size="26.5" font-weight="bold" fill="#000">2</text>
<text transform="translate(1786.20,971.10) scale(0.87,1)" text-anchor="end" font-size="26" font-weight="bold" fill="#000">2</text>
<text transform="translate(1965.42,1088.00) scale(0.87,1)" text-anchor="middle" font-size="26.5" font-weight="bold" fill="#000">4</text>
<text transform="translate(1786.20,886.20) scale(0.87,1)" text-anchor="end" font-size="26" font-weight="bold" fill="#000">4</text>
<text transform="translate(2050.28,1088.00) scale(0.87,1)" text-anchor="middle" font-size="26.5" font-weight="bold" fill="#000">6</text>
<text transform="translate(1786.20,801.30) scale(0.87,1)" text-anchor="end" font-size="26" font-weight="bold" fill="#000">6</text>
<text transform="translate(2135.14,1088.00) scale(0.87,1)" text-anchor="middle" font-size="26.5" font-weight="bold" fill="#000">8</text>
<text transform="translate(1786.20,716.40) scale(0.87,1)" text-anchor="end" font-size="26" font-weight="bold" fill="#000">8</text>
<text transform="translate(2220.00,1088.00) scale(0.87,1)" text-anchor="middle" font-size="26.5" font-weight="bold" fill="#000">10</text>
<text transform="translate(1786.20,631.50) scale(0.87,1)" text-anchor="end" font-size="26" font-weight="bold" fill="#000">10</text>
<text transform="translate(2001.40,1114.80) scale(0.81,1)" text-anchor="middle" font-size="28.5" font-weight="bold" fill="#000">IPS Planetary K-Index</text>
<text transform="translate(1750.50,845.40) rotate(-90) scale(0.83,1)" text-anchor="middle" font-size="28.5" font-weight="bold" fill="#000">GFZ Planetary K-Index</text>
<text transform="translate(1822.50,665.00) scale(0.82,1)" text-anchor="start" font-size="25.4" font-weight="bold" fill="#000">Correlation 0.247</text>
<line x1="2265.20" y1="566.00" x2="2265.20" y2="1132.00" stroke="#000" stroke-width="1.8" />
</svg></body></html>
